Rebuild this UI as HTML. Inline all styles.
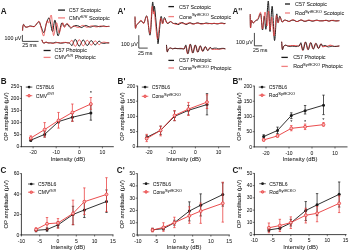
<!DOCTYPE html>
<html><head><meta charset="utf-8"><style>
html,body{margin:0;padding:0;background:#fff;width:350px;height:250px;overflow:hidden}
svg{display:block;will-change:transform}
text{font-family:"Liberation Sans", sans-serif;stroke:#1a1a1a;stroke-width:0.04px}
</style></head><body>
<svg width="350" height="250" viewBox="0 0 350 250">
<rect width="350" height="250" fill="#fff"/>
<text transform="translate(0.80,14.10) scale(0.87,1)" font-size="9.3" font-weight="bold" fill="#1a1a1a" style="stroke-width:0px">A</text>
<path d="M22.60,30.20 C22.63,29.67 22.63,27.98 22.80,27.00 C22.97,26.02 23.23,24.37 23.60,24.30 C23.97,24.23 24.47,26.12 25.00,26.60 C25.53,27.08 26.22,27.22 26.80,27.20 C27.38,27.18 27.90,26.70 28.50,26.50 C29.10,26.30 29.48,25.98 30.40,26.00 C31.32,26.02 33.15,26.70 34.00,26.60 C34.85,26.50 35.00,25.92 35.50,25.40 C36.00,24.88 36.38,24.10 37.00,23.50 C37.62,22.90 38.50,21.22 39.20,21.80 C39.90,22.38 40.40,25.22 41.20,27.00 C42.00,28.78 43.12,33.17 44.00,32.50 C44.88,31.83 45.67,25.45 46.50,23.00 C47.33,20.55 48.33,17.80 49.00,17.80 C49.67,17.80 49.90,20.72 50.50,23.00 C51.10,25.28 51.85,31.97 52.60,31.50 C53.35,31.03 54.10,19.48 55.00,20.20 C55.90,20.92 56.90,35.30 58.00,35.80 C59.10,36.30 60.60,24.75 61.60,23.20 C62.60,21.65 63.13,26.37 64.00,26.50 C64.87,26.63 65.70,23.75 66.80,24.00 C67.90,24.25 69.57,27.58 70.60,28.00 C71.63,28.42 72.10,26.90 73.00,26.50 C73.90,26.10 75.00,25.65 76.00,25.60 C77.00,25.55 78.12,25.90 79.00,26.22 C79.88,26.54 80.50,27.47 81.25,27.52 C82.00,27.57 82.75,26.88 83.50,26.53 C84.25,26.19 85.00,25.47 85.75,25.45 C86.50,25.42 87.25,26.12 88.00,26.40 C88.75,26.67 89.50,27.08 90.25,27.09 C91.00,27.11 91.75,26.67 92.50,26.48 C93.25,26.28 94.00,25.98 94.75,25.94 C95.50,25.89 96.25,26.08 97.00,26.20 C97.75,26.32 98.50,26.60 99.25,26.66 C100.00,26.72 100.75,26.68 101.50,26.57 C102.25,26.46 103.00,25.99 103.75,25.99 C104.50,25.98 105.25,26.45 106.00,26.53 C106.75,26.61 107.75,26.47 108.25,26.45 C108.75,26.43 108.88,26.41 109.00,26.40" fill="none" stroke="#1a1a1a" stroke-width="1.00" stroke-linejoin="round" stroke-linecap="round" />
<path d="M22.60,30.20 C22.63,29.67 22.63,27.93 22.80,27.00 C22.97,26.07 23.23,24.63 23.60,24.60 C23.97,24.57 24.47,26.40 25.00,26.80 C25.53,27.20 26.22,27.00 26.80,27.00 C27.38,27.00 27.90,26.93 28.50,26.80 C29.10,26.67 29.48,26.20 30.40,26.20 C31.32,26.20 33.15,26.90 34.00,26.80 C34.85,26.70 35.00,26.20 35.50,25.60 C36.00,25.00 36.38,23.88 37.00,23.20 C37.62,22.52 38.50,20.70 39.20,21.50 C39.90,22.30 40.47,25.58 41.20,28.00 C41.93,30.42 42.88,36.17 43.60,36.00 C44.32,35.83 44.90,29.53 45.50,27.00 C46.10,24.47 46.67,21.47 47.20,20.80 C47.73,20.13 48.00,23.90 48.70,23.00 C49.40,22.10 50.60,13.32 51.40,15.40 C52.20,17.48 52.65,34.28 53.50,35.50 C54.35,36.72 55.58,23.12 56.50,22.70 C57.42,22.28 58.25,32.28 59.00,33.00 C59.75,33.72 60.33,28.72 61.00,27.00 C61.67,25.28 62.42,22.62 63.00,22.70 C63.58,22.78 63.83,27.37 64.50,27.50 C65.17,27.63 66.25,23.92 67.00,23.50 C67.75,23.08 68.33,24.33 69.00,25.00 C69.67,25.67 70.25,27.33 71.00,27.50 C71.75,27.67 72.50,26.05 73.50,26.00 C74.50,25.95 76.04,26.96 77.00,27.19 C77.96,27.43 78.50,27.66 79.25,27.40 C80.00,27.15 80.75,25.99 81.50,25.68 C82.25,25.36 83.00,25.29 83.75,25.51 C84.50,25.73 85.25,26.74 86.00,27.01 C86.75,27.27 87.50,27.26 88.25,27.11 C89.00,26.96 89.75,26.33 90.50,26.11 C91.25,25.89 92.00,25.69 92.75,25.80 C93.50,25.91 94.25,26.59 95.00,26.76 C95.75,26.94 96.50,26.96 97.25,26.86 C98.00,26.77 98.75,26.35 99.50,26.19 C100.25,26.04 101.00,25.86 101.75,25.91 C102.50,25.97 103.25,26.44 104.00,26.55 C104.75,26.66 105.50,26.63 106.25,26.59 C107.00,26.56 108.04,26.37 108.50,26.34 C108.96,26.31 108.92,26.39 109.00,26.40" fill="none" stroke="#e83a3a" stroke-width="0.80" stroke-linejoin="round" stroke-linecap="round" opacity="0.95"/>
<path d="M42.00,40.20 C42.12,40.52 42.37,41.60 42.70,42.10 C43.03,42.60 43.45,43.20 44.00,43.20 C44.55,43.20 45.33,42.15 46.00,42.10 C46.67,42.05 47.25,42.77 48.00,42.90 C48.75,43.03 49.64,42.84 50.50,42.87 C51.36,42.90 52.36,43.19 53.16,43.10 C53.96,43.01 54.55,42.39 55.30,42.31 C56.05,42.23 56.81,42.49 57.67,42.63 C58.54,42.76 59.58,43.07 60.49,43.13 C61.39,43.19 62.21,43.08 63.09,42.97 C63.96,42.86 64.96,42.49 65.75,42.47 C66.53,42.46 67.21,42.83 67.80,42.90 C68.39,42.97 68.83,42.67 69.30,42.90 C69.77,43.13 70.19,43.85 70.63,44.31 C71.08,44.76 71.52,45.88 71.97,45.64 C72.41,45.41 72.86,43.88 73.30,42.90 C73.74,41.92 74.19,40.29 74.63,39.78 C75.08,39.28 75.52,39.35 75.97,39.87 C76.41,40.39 76.86,41.92 77.30,42.90 C77.74,43.88 78.19,45.30 78.63,45.76 C79.08,46.22 79.52,46.15 79.97,45.67 C80.41,45.19 80.86,43.79 81.30,42.90 C81.74,42.01 82.19,40.72 82.63,40.30 C83.08,39.88 83.52,39.96 83.97,40.39 C84.41,40.82 84.86,42.09 85.30,42.90 C85.74,43.71 86.19,44.86 86.63,45.24 C87.08,45.61 87.52,45.54 87.97,45.15 C88.41,44.76 88.86,43.62 89.30,42.90 C89.74,42.18 90.19,41.15 90.63,40.82 C91.08,40.49 91.52,40.56 91.97,40.91 C92.41,41.25 92.86,42.26 93.30,42.90 C93.74,43.54 94.19,44.43 94.63,44.72 C95.08,45.01 95.52,44.94 95.97,44.63 C96.41,44.33 96.86,43.45 97.30,42.90 C97.74,42.35 98.19,41.59 98.63,41.34 C99.08,41.10 99.52,41.17 99.97,41.43 C100.41,41.69 100.66,42.58 101.30,42.90 C101.94,43.22 102.94,43.32 103.80,43.33 C104.66,43.33 105.64,43.01 106.47,42.94 C107.31,42.87 108.41,42.91 108.80,42.90" fill="none" stroke="#1a1a1a" stroke-width="1.00" stroke-linejoin="round" stroke-linecap="round" />
<path d="M42.00,40.20 C42.12,40.52 42.37,41.60 42.70,42.10 C43.03,42.60 43.45,43.20 44.00,43.20 C44.55,43.20 45.33,42.15 46.00,42.10 C46.67,42.05 47.25,42.78 48.00,42.90 C48.75,43.02 49.66,42.76 50.50,42.84 C51.34,42.93 52.22,43.40 53.06,43.41 C53.90,43.42 54.68,43.06 55.53,42.91 C56.37,42.76 57.26,42.50 58.11,42.52 C58.96,42.55 59.74,43.07 60.62,43.06 C61.51,43.04 62.57,42.52 63.42,42.41 C64.27,42.31 64.99,42.33 65.72,42.41 C66.45,42.49 67.20,42.82 67.80,42.90 C68.40,42.98 68.83,43.13 69.30,42.90 C69.77,42.67 70.19,41.95 70.63,41.49 C71.08,41.04 71.52,39.92 71.97,40.16 C72.41,40.39 72.86,41.92 73.30,42.90 C73.74,43.88 74.19,45.51 74.63,46.02 C75.08,46.52 75.52,46.45 75.97,45.93 C76.41,45.41 76.86,43.88 77.30,42.90 C77.74,41.92 78.19,40.50 78.63,40.04 C79.08,39.58 79.52,39.65 79.97,40.13 C80.41,40.61 80.86,42.01 81.30,42.90 C81.74,43.79 82.19,45.08 82.63,45.50 C83.08,45.92 83.52,45.84 83.97,45.41 C84.41,44.98 84.86,43.71 85.30,42.90 C85.74,42.09 86.19,40.94 86.63,40.56 C87.08,40.19 87.52,40.26 87.97,40.65 C88.41,41.04 88.86,42.18 89.30,42.90 C89.74,43.62 90.19,44.65 90.63,44.98 C91.08,45.31 91.52,45.24 91.97,44.89 C92.41,44.55 92.86,43.54 93.30,42.90 C93.74,42.26 94.19,41.37 94.63,41.08 C95.08,40.79 95.52,40.86 95.97,41.17 C96.41,41.47 96.86,42.35 97.30,42.90 C97.74,43.45 98.19,44.21 98.63,44.46 C99.08,44.70 99.52,44.63 99.97,44.37 C100.41,44.11 100.66,43.27 101.30,42.90 C101.94,42.53 102.96,42.19 103.80,42.14 C104.64,42.08 105.58,42.43 106.35,42.55 C107.13,42.68 108.06,42.82 108.46,42.88 C108.87,42.94 108.74,42.90 108.80,42.90" fill="none" stroke="#e83a3a" stroke-width="0.80" stroke-linejoin="round" stroke-linecap="round" opacity="0.95"/>
<line x1="58.10" y1="10.10" x2="65.00" y2="10.10" stroke="#1a1a1a" stroke-width="1.30"/>
<text x="68.80" y="12.00" font-size="5.40" text-anchor="start" font-weight="normal" fill="#1a1a1a" >C57 Scotopic</text>
<line x1="58.10" y1="17.90" x2="65.00" y2="17.90" stroke="#f08080" stroke-width="1.30"/>
<text x="68.80" y="19.80" font-size="5.40" fill="#1a1a1a">CMV<tspan font-size="4.10" dy="-2.1" font-style="italic" letter-spacing="0.3">fl/fl</tspan><tspan dy="2.1" font-size="5.40"> Scotopic</tspan></text>
<line x1="43.60" y1="50.50" x2="50.60" y2="50.50" stroke="#1a1a1a" stroke-width="1.30"/>
<text x="54.50" y="52.40" font-size="5.40" text-anchor="start" font-weight="normal" fill="#1a1a1a" >C57 Photopic</text>
<line x1="43.60" y1="57.40" x2="50.60" y2="57.40" stroke="#f08080" stroke-width="1.30"/>
<text x="54.50" y="59.30" font-size="5.40" fill="#1a1a1a">CMV<tspan font-size="4.10" dy="-2.1" font-style="italic" letter-spacing="0.3">fl/fl</tspan><tspan dy="2.1" font-size="5.40"> Photopic</tspan></text>
<path d="M22.40,35.30 L22.40,41.40 L38.20,41.40" fill="none" stroke="#1a1a1a" stroke-width="0.80" stroke-linejoin="round" stroke-linecap="round" stroke-linecap="butt" stroke-linejoin="miter"/>
<text x="21.40" y="39.80" font-size="5.30" text-anchor="end" font-weight="normal" fill="#1a1a1a" >100 μV</text>
<text x="22.20" y="47.20" font-size="5.30" text-anchor="start" font-weight="normal" fill="#1a1a1a" >25 ms</text>
<text transform="translate(117.60,14.10) scale(0.87,1)" font-size="9.3" font-weight="bold" fill="#1a1a1a" style="stroke-width:0px">A'</text>
<path d="M135.00,17.00 C135.07,18.83 135.15,26.67 135.40,28.00 C135.65,29.33 136.00,25.77 136.50,25.00 C137.00,24.23 137.65,24.12 138.40,23.40 C139.15,22.68 140.10,20.77 141.00,20.70 C141.90,20.63 142.80,23.75 143.80,23.00 C144.80,22.25 145.95,14.20 147.00,16.20 C148.05,18.20 149.18,37.25 150.10,35.00 C151.02,32.75 151.92,6.53 152.50,2.70 C153.08,-1.13 153.25,11.25 153.60,12.00 C153.95,12.75 153.95,2.87 154.60,7.20 C155.25,11.53 156.88,32.20 157.50,38.00 C158.12,43.80 157.73,45.50 158.30,42.00 C158.87,38.50 160.17,20.10 160.90,17.00 C161.63,13.90 162.10,23.32 162.70,23.40 C163.30,23.48 163.75,17.50 164.50,17.50 C165.25,17.50 166.15,22.72 167.20,23.40 C168.25,24.08 169.83,21.58 170.80,21.60 C171.77,21.62 172.13,23.22 173.00,23.50 C173.87,23.78 175.17,23.12 176.00,23.30 C176.83,23.48 177.33,24.52 178.00,24.57 C178.67,24.62 179.33,23.91 180.00,23.58 C180.67,23.26 181.33,22.66 182.00,22.62 C182.67,22.58 183.33,23.02 184.00,23.33 C184.67,23.64 185.33,24.39 186.00,24.45 C186.67,24.51 187.33,23.96 188.00,23.68 C188.67,23.41 189.33,22.85 190.00,22.82 C190.67,22.79 191.33,23.32 192.00,23.50 C192.67,23.69 193.33,23.99 194.00,23.94 C194.67,23.89 195.33,23.37 196.00,23.20 C196.67,23.03 197.33,22.85 198.00,22.91 C198.67,22.97 199.33,23.43 200.00,23.55 C200.67,23.68 201.33,23.64 202.00,23.66 C202.67,23.68 203.33,23.79 204.00,23.68 C204.67,23.57 205.33,23.06 206.00,23.01 C206.67,22.95 207.33,23.25 208.00,23.34 C208.67,23.43 209.33,23.45 210.00,23.53 C210.67,23.60 211.33,23.83 212.00,23.80 C212.67,23.77 213.33,23.36 214.00,23.34 C214.67,23.33 215.33,23.64 216.00,23.73 C216.67,23.81 217.33,23.95 218.00,23.87 C218.67,23.79 219.33,23.35 220.00,23.22 C220.67,23.09 221.33,23.05 222.00,23.10 C222.67,23.14 223.50,23.43 224.00,23.50 C224.50,23.57 224.83,23.50 225.00,23.50" fill="none" stroke="#1a1a1a" stroke-width="1.00" stroke-linejoin="round" stroke-linecap="round" />
<path d="M135.00,17.00 C135.07,18.83 135.15,26.67 135.40,28.00 C135.65,29.33 136.00,25.83 136.50,25.00 C137.00,24.17 137.65,23.80 138.40,23.00 C139.15,22.20 140.10,20.12 141.00,20.20 C141.90,20.28 142.80,24.12 143.80,23.50 C144.80,22.88 145.97,14.83 147.00,16.50 C148.03,18.17 149.17,35.08 150.00,33.50 C150.83,31.92 151.45,10.25 152.00,7.00 C152.55,3.75 152.92,13.17 153.30,14.00 C153.68,14.83 153.72,8.33 154.30,12.00 C154.88,15.67 156.18,31.83 156.80,36.00 C157.42,40.17 157.38,39.92 158.00,37.00 C158.62,34.08 159.75,20.67 160.50,18.50 C161.25,16.33 161.88,24.00 162.50,24.00 C163.12,24.00 163.45,18.67 164.20,18.50 C164.95,18.33 165.95,22.50 167.00,23.00 C168.05,23.50 169.50,21.47 170.50,21.50 C171.50,21.53 172.08,22.71 173.00,23.20 C173.92,23.69 175.17,24.28 176.00,24.42 C176.83,24.55 177.33,24.31 178.00,24.02 C178.67,23.72 179.33,22.77 180.00,22.63 C180.67,22.48 181.33,22.93 182.00,23.14 C182.67,23.34 183.33,23.72 184.00,23.84 C184.67,23.96 185.33,23.99 186.00,23.87 C186.67,23.75 187.33,23.28 188.00,23.12 C188.67,22.95 189.33,22.71 190.00,22.88 C190.67,23.05 191.33,24.00 192.00,24.15 C192.67,24.30 193.33,23.92 194.00,23.80 C194.67,23.68 195.33,23.55 196.00,23.42 C196.67,23.28 197.33,22.93 198.00,23.00 C198.67,23.07 199.33,23.68 200.00,23.86 C200.67,24.04 201.33,24.16 202.00,24.08 C202.67,24.00 203.33,23.46 204.00,23.37 C204.67,23.27 205.33,23.42 206.00,23.50 C206.67,23.57 207.33,23.82 208.00,23.82 C208.67,23.81 209.33,23.51 210.00,23.46 C210.67,23.41 211.33,23.56 212.00,23.54 C212.67,23.51 213.33,23.32 214.00,23.32 C214.67,23.33 215.33,23.54 216.00,23.58 C216.67,23.62 217.33,23.55 218.00,23.54 C218.67,23.53 219.33,23.55 220.00,23.52 C220.67,23.48 221.33,23.25 222.00,23.32 C222.67,23.39 223.50,23.93 224.00,23.96 C224.50,23.99 224.83,23.58 225.00,23.50" fill="none" stroke="#e83a3a" stroke-width="0.80" stroke-linejoin="round" stroke-linecap="round" opacity="0.95"/>
<path d="M166.50,45.30 C166.62,46.38 166.87,51.17 167.20,51.80 C167.53,52.43 167.95,49.73 168.50,49.10 C169.05,48.47 169.83,48.05 170.50,48.00 C171.17,47.95 171.75,48.76 172.50,48.80 C173.25,48.84 174.23,48.24 175.00,48.21 C175.77,48.19 176.31,48.65 177.11,48.67 C177.91,48.70 179.00,48.40 179.80,48.37 C180.60,48.33 181.42,48.41 181.91,48.48 C182.40,48.55 182.36,48.75 182.75,48.80 C183.14,48.85 183.86,49.18 184.25,48.80 C184.64,48.42 184.81,46.95 185.08,46.53 C185.36,46.11 185.64,45.55 185.92,46.30 C186.19,47.06 186.47,49.80 186.75,51.06 C187.03,52.32 187.31,53.76 187.58,53.84 C187.86,53.93 188.14,52.75 188.42,51.57 C188.69,50.38 188.97,47.95 189.25,46.72 C189.53,45.48 189.81,44.24 190.08,44.16 C190.36,44.09 190.64,45.17 190.92,46.26 C191.19,47.35 191.47,49.58 191.75,50.70 C192.03,51.83 192.31,52.96 192.58,53.03 C192.86,53.10 193.14,52.10 193.42,51.11 C193.69,50.12 193.97,48.10 194.25,47.07 C194.53,46.05 194.81,45.03 195.08,44.98 C195.36,44.92 195.64,45.82 195.92,46.72 C196.19,47.62 196.47,49.43 196.75,50.35 C197.03,51.27 197.31,52.17 197.58,52.22 C197.86,52.27 198.14,51.45 198.42,50.65 C198.69,49.85 198.97,48.24 199.25,47.43 C199.53,46.62 199.81,45.83 200.08,45.79 C200.36,45.75 200.64,46.48 200.92,47.18 C201.19,47.88 201.47,49.29 201.75,50.00 C202.03,50.70 202.31,51.37 202.58,51.41 C202.86,51.44 203.14,50.80 203.42,50.19 C203.69,49.59 203.97,48.38 204.25,47.78 C204.53,47.18 204.81,46.62 205.08,46.60 C205.36,46.58 205.64,47.13 205.92,47.64 C206.19,48.14 206.47,49.15 206.75,49.64 C207.03,50.13 207.31,50.58 207.58,50.59 C207.86,50.61 208.14,50.14 208.42,49.74 C208.69,49.33 208.97,48.52 209.25,48.14 C209.53,47.75 209.81,47.42 210.08,47.41 C210.36,47.41 210.64,47.78 210.92,48.09 C211.19,48.41 211.19,49.11 211.75,49.29 C212.31,49.46 213.44,49.14 214.25,49.13 C215.06,49.13 215.86,49.27 216.58,49.28 C217.30,49.28 217.85,49.22 218.57,49.17 C219.28,49.12 220.12,49.07 220.85,48.97 C221.57,48.88 222.24,48.62 222.93,48.59 C223.62,48.56 224.65,48.76 225.00,48.80" fill="none" stroke="#e83a3a" stroke-width="1.00" stroke-linejoin="round" stroke-linecap="round" />
<path d="M166.50,45.30 C166.62,46.38 166.87,51.17 167.20,51.80 C167.53,52.43 167.95,49.73 168.50,49.10 C169.05,48.47 169.83,48.05 170.50,48.00 C171.17,47.95 171.75,48.75 172.50,48.80 C173.25,48.85 174.21,48.33 175.00,48.29 C175.79,48.25 176.36,48.48 177.21,48.56 C178.07,48.65 179.19,48.76 180.11,48.80 C181.04,48.83 182.06,48.80 182.75,48.80 C183.44,48.80 183.86,49.13 184.25,48.80 C184.64,48.47 184.81,47.47 185.08,46.83 C185.36,46.19 185.64,44.63 185.92,44.95 C186.19,45.28 186.47,47.43 186.75,48.80 C187.03,50.17 187.31,52.47 187.58,53.18 C187.86,53.89 188.14,53.79 188.42,53.06 C188.69,52.33 188.97,50.18 189.25,48.80 C189.53,47.42 189.81,45.42 190.08,44.77 C190.36,44.12 190.64,44.22 190.92,44.89 C191.19,45.56 191.47,47.54 191.75,48.80 C192.03,50.06 192.31,51.88 192.58,52.47 C192.86,53.07 193.14,52.97 193.42,52.36 C193.69,51.74 193.97,49.95 194.25,48.80 C194.53,47.65 194.81,46.01 195.08,45.48 C195.36,44.94 195.64,45.04 195.92,45.60 C196.19,46.15 196.47,47.77 196.75,48.80 C197.03,49.83 197.31,51.29 197.58,51.77 C197.86,52.24 198.14,52.15 198.42,51.65 C198.69,51.16 198.97,49.71 199.25,48.80 C199.53,47.89 199.81,46.60 200.08,46.18 C200.36,45.77 200.64,45.87 200.92,46.30 C201.19,46.74 201.47,48.01 201.75,48.80 C202.03,49.59 202.31,50.71 202.58,51.06 C202.86,51.42 203.14,51.32 203.42,50.95 C203.69,50.57 203.97,49.48 204.25,48.80 C204.53,48.12 204.81,47.19 205.08,46.89 C205.36,46.59 205.64,46.69 205.92,47.01 C206.19,47.33 206.47,48.24 206.75,48.80 C207.03,49.36 207.31,50.12 207.58,50.36 C207.86,50.60 208.14,50.50 208.42,50.24 C208.69,49.98 208.97,49.24 209.25,48.80 C209.53,48.36 209.81,47.78 210.08,47.59 C210.36,47.41 210.64,47.51 210.92,47.71 C211.19,47.91 211.19,48.73 211.75,48.80 C212.31,48.87 213.45,48.21 214.25,48.10 C215.05,48.00 215.78,48.02 216.54,48.15 C217.30,48.29 218.03,48.87 218.84,48.92 C219.65,48.96 220.58,48.51 221.38,48.42 C222.18,48.33 223.04,48.33 223.64,48.39 C224.24,48.45 224.77,48.73 225.00,48.80" fill="none" stroke="#1a1a1a" stroke-width="0.85" stroke-linejoin="round" stroke-linecap="round" opacity="0.92"/>
<line x1="168.40" y1="6.60" x2="174.00" y2="6.60" stroke="#1a1a1a" stroke-width="1.30"/>
<text x="179.00" y="8.50" font-size="5.40" text-anchor="start" font-weight="normal" fill="#1a1a1a" >C57 Scotopic</text>
<line x1="168.40" y1="16.60" x2="174.00" y2="16.60" stroke="#f08080" stroke-width="1.30"/>
<text x="179.00" y="18.50" font-size="5.40" fill="#1a1a1a">Cone<tspan font-size="4.10" dy="-2.1" >Syt9CKO</tspan><tspan dy="2.1" font-size="5.40"> Scotopic</tspan></text>
<line x1="168.40" y1="60.40" x2="174.00" y2="60.40" stroke="#1a1a1a" stroke-width="1.30"/>
<text x="179.00" y="62.30" font-size="5.40" text-anchor="start" font-weight="normal" fill="#1a1a1a" >C57 Photopic</text>
<line x1="168.40" y1="68.00" x2="174.00" y2="68.00" stroke="#f08080" stroke-width="1.30"/>
<text x="179.00" y="69.90" font-size="5.40" fill="#1a1a1a">Cone<tspan font-size="4.10" dy="-2.1" >Syt9CKO</tspan><tspan dy="2.1" font-size="5.40"> Photopic</tspan></text>
<path d="M138.80,35.60 L138.80,48.10 L147.30,48.10" fill="none" stroke="#1a1a1a" stroke-width="0.80" stroke-linejoin="round" stroke-linecap="round" stroke-linecap="butt" stroke-linejoin="miter"/>
<text x="137.80" y="46.40" font-size="5.30" text-anchor="end" font-weight="normal" fill="#1a1a1a" >100 μV</text>
<text x="138.00" y="55.20" font-size="5.30" text-anchor="start" font-weight="normal" fill="#1a1a1a" >25 ms</text>
<text transform="translate(232.40,14.10) scale(0.87,1)" font-size="9.3" font-weight="bold" fill="#1a1a1a" style="stroke-width:0px">A''</text>
<path d="M250.20,14.60 C250.25,16.80 250.28,26.82 250.50,27.80 C250.72,28.78 251.05,21.30 251.50,20.50 C251.95,19.70 252.52,22.98 253.20,23.00 C253.88,23.02 254.80,21.18 255.60,20.60 C256.40,20.02 257.15,20.60 258.00,19.50 C258.85,18.40 259.95,12.25 260.70,14.00 C261.45,15.75 261.90,29.67 262.50,30.00 C263.10,30.33 263.72,16.17 264.30,16.00 C264.88,15.83 265.33,31.50 266.00,29.00 C266.67,26.50 267.63,0.58 268.30,1.00 C268.97,1.42 269.35,30.62 270.00,31.50 C270.65,32.38 271.45,4.80 272.20,6.30 C272.95,7.80 273.77,39.15 274.50,40.50 C275.23,41.85 276.02,17.40 276.60,14.40 C277.18,11.40 277.47,22.20 278.00,22.50 C278.53,22.80 279.13,16.28 279.80,16.20 C280.47,16.12 281.30,21.33 282.00,22.00 C282.70,22.67 283.17,20.43 284.00,20.20 C284.83,19.97 286.17,20.41 287.00,20.63 C287.83,20.85 288.33,21.52 289.00,21.50 C289.67,21.48 290.33,20.74 291.00,20.50 C291.67,20.26 292.33,20.03 293.00,20.07 C293.67,20.11 294.33,20.49 295.00,20.75 C295.67,21.00 296.33,21.62 297.00,21.61 C297.67,21.61 298.33,21.02 299.00,20.73 C299.67,20.45 300.33,19.89 301.00,19.91 C301.67,19.93 302.33,20.59 303.00,20.84 C303.67,21.08 304.33,21.38 305.00,21.39 C305.67,21.39 306.33,21.06 307.00,20.87 C307.67,20.68 308.33,20.23 309.00,20.24 C309.67,20.24 310.33,20.75 311.00,20.90 C311.67,21.05 312.33,21.21 313.00,21.14 C313.67,21.08 314.33,20.67 315.00,20.49 C315.67,20.32 316.33,20.03 317.00,20.09 C317.67,20.15 318.33,20.71 319.00,20.83 C319.67,20.96 320.33,20.83 321.00,20.82 C321.67,20.81 322.33,20.85 323.00,20.79 C323.67,20.73 324.33,20.53 325.00,20.47 C325.67,20.41 326.33,20.32 327.00,20.44 C327.67,20.55 328.33,21.17 329.00,21.17 C329.67,21.17 330.33,20.51 331.00,20.42 C331.67,20.33 332.33,20.54 333.00,20.62 C333.67,20.70 334.33,20.87 335.00,20.90 C335.67,20.94 336.33,20.86 337.00,20.83 C337.67,20.80 338.67,20.72 339.00,20.70" fill="none" stroke="#1a1a1a" stroke-width="1.00" stroke-linejoin="round" stroke-linecap="round" />
<path d="M250.20,14.60 C250.25,16.80 250.28,26.82 250.50,27.80 C250.72,28.78 251.05,21.30 251.50,20.50 C251.95,19.70 252.52,22.98 253.20,23.00 C253.88,23.02 254.80,21.35 255.60,20.60 C256.40,19.85 257.15,19.83 258.00,18.50 C258.85,17.17 259.95,10.85 260.70,12.60 C261.45,14.35 261.78,29.10 262.50,29.00 C263.22,28.90 264.25,12.50 265.00,12.00 C265.75,11.50 266.42,26.17 267.00,26.00 C267.58,25.83 268.00,10.33 268.50,11.00 C269.00,11.67 269.45,29.00 270.00,30.00 C270.55,31.00 271.13,16.00 271.80,17.00 C272.47,18.00 273.25,36.25 274.00,36.00 C274.75,35.75 275.63,17.67 276.30,15.50 C276.97,13.33 277.38,22.67 278.00,23.00 C278.62,23.33 279.25,17.67 280.00,17.50 C280.75,17.33 281.67,21.58 282.50,22.00 C283.33,22.42 284.08,20.10 285.00,20.00 C285.92,19.90 287.17,21.24 288.00,21.43 C288.83,21.62 289.33,21.39 290.00,21.15 C290.67,20.91 291.33,20.19 292.00,19.97 C292.67,19.76 293.33,19.63 294.00,19.86 C294.67,20.10 295.33,21.12 296.00,21.38 C296.67,21.64 297.33,21.57 298.00,21.42 C298.67,21.26 299.33,20.70 300.00,20.45 C300.67,20.19 301.33,19.79 302.00,19.90 C302.67,20.01 303.33,20.92 304.00,21.09 C304.67,21.26 305.33,21.07 306.00,20.91 C306.67,20.75 307.33,20.25 308.00,20.14 C308.67,20.04 309.33,20.17 310.00,20.27 C310.67,20.38 311.33,20.65 312.00,20.75 C312.67,20.85 313.33,20.93 314.00,20.89 C314.67,20.85 315.33,20.58 316.00,20.51 C316.67,20.43 317.33,20.38 318.00,20.42 C318.67,20.46 319.33,20.67 320.00,20.76 C320.67,20.86 321.33,21.01 322.00,21.00 C322.67,20.99 323.33,20.83 324.00,20.69 C324.67,20.56 325.33,20.11 326.00,20.17 C326.67,20.24 327.33,20.93 328.00,21.08 C328.67,21.22 329.33,21.16 330.00,21.05 C330.67,20.94 331.33,20.54 332.00,20.41 C332.67,20.28 333.33,20.14 334.00,20.26 C334.67,20.39 335.33,21.07 336.00,21.17 C336.67,21.26 337.50,20.91 338.00,20.83 C338.50,20.75 338.83,20.72 339.00,20.70" fill="none" stroke="#e83a3a" stroke-width="0.80" stroke-linejoin="round" stroke-linecap="round" opacity="0.95"/>
<path d="M281.70,42.10 C281.82,43.35 282.07,48.90 282.40,49.60 C282.73,50.30 283.15,47.03 283.70,46.30 C284.25,45.57 285.03,45.25 285.70,45.20 C286.37,45.15 286.95,45.92 287.70,46.00 C288.45,46.08 289.37,45.76 290.20,45.69 C291.03,45.62 291.81,45.60 292.70,45.59 C293.59,45.59 294.69,45.61 295.52,45.68 C296.36,45.75 297.09,45.95 297.70,46.00 C298.31,46.05 298.81,46.33 299.20,46.00 C299.59,45.67 299.78,44.41 300.07,44.05 C300.36,43.69 300.64,43.20 300.93,43.85 C301.22,44.50 301.51,46.86 301.80,47.95 C302.09,49.03 302.38,50.29 302.67,50.36 C302.96,50.44 303.24,49.43 303.53,48.40 C303.82,47.37 304.11,45.26 304.40,44.19 C304.69,43.12 304.98,42.03 305.27,41.96 C305.56,41.89 305.84,42.83 306.13,43.78 C306.42,44.73 306.71,46.68 307.00,47.67 C307.29,48.66 307.58,49.66 307.87,49.72 C308.16,49.78 308.44,48.92 308.73,48.04 C309.02,47.16 309.31,45.38 309.60,44.47 C309.89,43.56 310.18,42.65 310.47,42.60 C310.76,42.54 311.04,43.34 311.33,44.14 C311.62,44.94 311.91,46.57 312.20,47.39 C312.49,48.22 312.78,49.04 313.07,49.08 C313.36,49.13 313.64,48.40 313.93,47.68 C314.22,46.96 314.51,45.49 314.80,44.75 C315.09,44.01 315.38,43.28 315.67,43.23 C315.96,43.19 316.24,43.85 316.53,44.50 C316.82,45.15 317.11,46.46 317.40,47.11 C317.69,47.77 317.98,48.41 318.27,48.45 C318.56,48.48 318.84,47.89 319.13,47.32 C319.42,46.75 319.71,45.60 320.00,45.03 C320.29,44.45 320.58,43.90 320.87,43.87 C321.16,43.84 321.44,44.37 321.73,44.86 C322.02,45.35 322.04,46.61 322.60,46.84 C323.16,47.06 324.33,46.28 325.10,46.19 C325.87,46.11 326.39,46.48 327.22,46.30 C328.04,46.13 329.18,45.26 330.05,45.17 C330.91,45.08 331.64,45.56 332.40,45.78 C333.16,45.99 333.75,46.39 334.59,46.48 C335.43,46.56 336.71,46.36 337.44,46.28 C338.18,46.20 338.74,46.05 339.00,46.00" fill="none" stroke="#e83a3a" stroke-width="1.00" stroke-linejoin="round" stroke-linecap="round" />
<path d="M281.70,42.10 C281.82,43.35 282.07,48.90 282.40,49.60 C282.73,50.30 283.15,47.03 283.70,46.30 C284.25,45.57 285.03,45.25 285.70,45.20 C286.37,45.15 286.95,45.77 287.70,46.00 C288.45,46.23 289.44,46.53 290.20,46.57 C290.96,46.62 291.50,46.28 292.25,46.27 C293.01,46.26 293.92,46.49 294.74,46.53 C295.55,46.57 296.65,46.59 297.15,46.50 C297.64,46.41 297.36,46.08 297.70,46.00 C298.04,45.92 298.81,46.28 299.20,46.00 C299.59,45.72 299.78,44.86 300.07,44.31 C300.36,43.75 300.64,42.41 300.93,42.69 C301.22,42.97 301.51,44.82 301.80,46.00 C302.09,47.18 302.38,49.17 302.67,49.79 C302.96,50.40 303.24,50.33 303.53,49.70 C303.82,49.06 304.11,47.20 304.40,46.00 C304.69,44.80 304.98,43.06 305.27,42.49 C305.56,41.92 305.84,42.00 306.13,42.58 C306.42,43.17 306.71,44.89 307.00,46.00 C307.29,47.11 307.58,48.71 307.87,49.23 C308.16,49.76 308.44,49.68 308.73,49.14 C309.02,48.60 309.31,47.02 309.60,46.00 C309.89,44.98 310.18,43.52 310.47,43.04 C310.76,42.57 311.04,42.64 311.33,43.14 C311.62,43.63 311.91,45.08 312.20,46.00 C312.49,46.92 312.78,48.25 313.07,48.68 C313.36,49.11 313.64,49.03 313.93,48.59 C314.22,48.14 314.51,46.83 314.80,46.00 C315.09,45.17 315.38,43.98 315.67,43.60 C315.96,43.21 316.24,43.29 316.53,43.69 C316.82,44.09 317.11,45.26 317.40,46.00 C317.69,46.74 317.98,47.79 318.27,48.12 C318.56,48.46 318.84,48.39 319.13,48.03 C319.42,47.68 319.71,46.65 320.00,46.00 C320.29,45.35 320.58,44.45 320.87,44.15 C321.16,43.86 321.44,43.94 321.73,44.24 C322.02,44.55 322.04,45.82 322.60,46.00 C323.16,46.18 324.21,45.18 325.10,45.34 C325.99,45.49 327.12,46.70 327.92,46.92 C328.71,47.14 329.10,46.74 329.86,46.63 C330.62,46.53 331.71,46.31 332.46,46.27 C333.22,46.24 333.69,46.42 334.39,46.42 C335.10,46.43 335.91,46.38 336.68,46.31 C337.44,46.24 338.61,46.05 339.00,46.00" fill="none" stroke="#1a1a1a" stroke-width="0.85" stroke-linejoin="round" stroke-linecap="round" opacity="0.92"/>
<line x1="285.00" y1="4.00" x2="290.00" y2="4.00" stroke="#1a1a1a" stroke-width="1.30"/>
<text x="295.00" y="5.90" font-size="5.40" text-anchor="start" font-weight="normal" fill="#1a1a1a" >C57 Scotopic</text>
<line x1="285.00" y1="13.00" x2="290.00" y2="13.00" stroke="#f08080" stroke-width="1.30"/>
<text x="295.00" y="14.90" font-size="5.40" fill="#1a1a1a">Rod<tspan font-size="4.10" dy="-2.1" >Syt9CKO</tspan><tspan dy="2.1" font-size="5.40"> Scotopic</tspan></text>
<line x1="281.40" y1="57.40" x2="287.80" y2="57.40" stroke="#1a1a1a" stroke-width="1.30"/>
<text x="293.20" y="59.30" font-size="5.40" text-anchor="start" font-weight="normal" fill="#1a1a1a" >C57 Photopic</text>
<line x1="281.40" y1="66.40" x2="287.80" y2="66.40" stroke="#f08080" stroke-width="1.30"/>
<text x="293.20" y="68.30" font-size="5.40" fill="#1a1a1a">Rod<tspan font-size="4.10" dy="-2.1" >Syt9CKO</tspan><tspan dy="2.1" font-size="5.40"> Photopic</tspan></text>
<path d="M254.40,33.30 L254.40,45.80 L261.80,45.80" fill="none" stroke="#1a1a1a" stroke-width="0.80" stroke-linejoin="round" stroke-linecap="round" stroke-linecap="butt" stroke-linejoin="miter"/>
<text x="252.90" y="44.20" font-size="5.30" text-anchor="end" font-weight="normal" fill="#1a1a1a" >100 μV</text>
<text x="253.00" y="52.20" font-size="5.30" text-anchor="start" font-weight="normal" fill="#1a1a1a" >25 ms</text>
<text transform="translate(0.80,84.10) scale(0.87,1)" font-size="9.3" font-weight="bold" fill="#1a1a1a" style="stroke-width:0px">B</text>
<line x1="21.40" y1="86.10" x2="21.40" y2="147.10" stroke="#222" stroke-width="0.85"/>
<line x1="21.00" y1="146.70" x2="113.80" y2="146.70" stroke="#222" stroke-width="0.85"/>
<line x1="19.80" y1="146.70" x2="21.40" y2="146.70" stroke="#1a1a1a" stroke-width="0.60"/>
<text x="19.20" y="148.30" font-size="5.00" text-anchor="end" font-weight="normal" fill="#1a1a1a" >0</text>
<line x1="19.80" y1="134.64" x2="21.40" y2="134.64" stroke="#1a1a1a" stroke-width="0.60"/>
<text x="19.20" y="136.24" font-size="5.00" text-anchor="end" font-weight="normal" fill="#1a1a1a" >50</text>
<line x1="19.80" y1="122.58" x2="21.40" y2="122.58" stroke="#1a1a1a" stroke-width="0.60"/>
<text x="19.20" y="124.18" font-size="5.00" text-anchor="end" font-weight="normal" fill="#1a1a1a" >100</text>
<line x1="19.80" y1="110.52" x2="21.40" y2="110.52" stroke="#1a1a1a" stroke-width="0.60"/>
<text x="19.20" y="112.12" font-size="5.00" text-anchor="end" font-weight="normal" fill="#1a1a1a" >150</text>
<line x1="19.80" y1="98.46" x2="21.40" y2="98.46" stroke="#1a1a1a" stroke-width="0.60"/>
<text x="19.20" y="100.06" font-size="5.00" text-anchor="end" font-weight="normal" fill="#1a1a1a" >200</text>
<line x1="19.80" y1="86.40" x2="21.40" y2="86.40" stroke="#1a1a1a" stroke-width="0.60"/>
<text x="19.20" y="88.00" font-size="5.00" text-anchor="end" font-weight="normal" fill="#1a1a1a" >250</text>
<line x1="33.10" y1="146.70" x2="33.10" y2="148.30" stroke="#1a1a1a" stroke-width="0.60"/>
<text x="33.10" y="154.30" font-size="5.00" text-anchor="middle" font-weight="normal" fill="#1a1a1a" >-20</text>
<line x1="56.20" y1="146.70" x2="56.20" y2="148.30" stroke="#1a1a1a" stroke-width="0.60"/>
<text x="56.20" y="154.30" font-size="5.00" text-anchor="middle" font-weight="normal" fill="#1a1a1a" >-10</text>
<line x1="79.30" y1="146.70" x2="79.30" y2="148.30" stroke="#1a1a1a" stroke-width="0.60"/>
<text x="79.30" y="154.30" font-size="5.00" text-anchor="middle" font-weight="normal" fill="#1a1a1a" >0</text>
<line x1="102.40" y1="146.70" x2="102.40" y2="148.30" stroke="#1a1a1a" stroke-width="0.60"/>
<text x="102.40" y="154.30" font-size="5.00" text-anchor="middle" font-weight="normal" fill="#1a1a1a" >10</text>
<text x="67.90" y="161.10" font-size="5.90" text-anchor="middle" font-weight="normal" fill="#1a1a1a" >Intensity (dB)</text>
<text transform="translate(8.00,116.55) rotate(-90)" font-size="5.9" text-anchor="middle" fill="#1a1a1a">OP amplitude (μV)</text>
<polyline points="30.79,140.19 44.65,134.40 58.51,121.62 72.37,117.27 90.85,112.93" fill="none" stroke="#1a1a1a" stroke-width="0.9"/>
<line x1="30.79" y1="138.98" x2="30.79" y2="141.39" stroke="#1a1a1a" stroke-width="0.75"/>
<line x1="29.59" y1="138.98" x2="31.99" y2="138.98" stroke="#1a1a1a" stroke-width="0.70"/>
<line x1="29.59" y1="141.39" x2="31.99" y2="141.39" stroke="#1a1a1a" stroke-width="0.70"/>
<line x1="44.65" y1="131.75" x2="44.65" y2="137.05" stroke="#1a1a1a" stroke-width="0.75"/>
<line x1="43.45" y1="131.75" x2="45.85" y2="131.75" stroke="#1a1a1a" stroke-width="0.70"/>
<line x1="43.45" y1="137.05" x2="45.85" y2="137.05" stroke="#1a1a1a" stroke-width="0.70"/>
<line x1="58.51" y1="120.17" x2="58.51" y2="123.06" stroke="#1a1a1a" stroke-width="0.75"/>
<line x1="57.31" y1="120.17" x2="59.71" y2="120.17" stroke="#1a1a1a" stroke-width="0.70"/>
<line x1="57.31" y1="123.06" x2="59.71" y2="123.06" stroke="#1a1a1a" stroke-width="0.70"/>
<line x1="72.37" y1="113.66" x2="72.37" y2="121.13" stroke="#1a1a1a" stroke-width="0.75"/>
<line x1="71.17" y1="113.66" x2="73.57" y2="113.66" stroke="#1a1a1a" stroke-width="0.70"/>
<line x1="71.17" y1="121.13" x2="73.57" y2="121.13" stroke="#1a1a1a" stroke-width="0.70"/>
<line x1="90.85" y1="105.21" x2="90.85" y2="120.17" stroke="#1a1a1a" stroke-width="0.75"/>
<line x1="89.65" y1="105.21" x2="92.05" y2="105.21" stroke="#1a1a1a" stroke-width="0.70"/>
<line x1="89.65" y1="120.17" x2="92.05" y2="120.17" stroke="#1a1a1a" stroke-width="0.70"/>
<circle cx="30.79" cy="140.19" r="1.5" fill="#1a1a1a"/>
<circle cx="44.65" cy="134.40" r="1.5" fill="#1a1a1a"/>
<circle cx="58.51" cy="121.62" r="1.5" fill="#1a1a1a"/>
<circle cx="72.37" cy="117.27" r="1.5" fill="#1a1a1a"/>
<circle cx="90.85" cy="112.93" r="1.5" fill="#1a1a1a"/>
<polyline points="30.79,138.02 44.65,129.57 58.51,120.41 72.37,112.45 90.85,104.01" fill="none" stroke="#e8393a" stroke-width="0.9"/>
<line x1="30.79" y1="135.85" x2="30.79" y2="139.95" stroke="#e8393a" stroke-width="0.75"/>
<line x1="29.59" y1="135.85" x2="31.99" y2="135.85" stroke="#e8393a" stroke-width="0.70"/>
<line x1="29.59" y1="139.95" x2="31.99" y2="139.95" stroke="#e8393a" stroke-width="0.70"/>
<line x1="44.65" y1="122.58" x2="44.65" y2="137.05" stroke="#e8393a" stroke-width="0.75"/>
<line x1="43.45" y1="122.58" x2="45.85" y2="122.58" stroke="#e8393a" stroke-width="0.70"/>
<line x1="43.45" y1="137.05" x2="45.85" y2="137.05" stroke="#e8393a" stroke-width="0.70"/>
<line x1="58.51" y1="112.45" x2="58.51" y2="128.13" stroke="#e8393a" stroke-width="0.75"/>
<line x1="57.31" y1="112.45" x2="59.71" y2="112.45" stroke="#e8393a" stroke-width="0.70"/>
<line x1="57.31" y1="128.13" x2="59.71" y2="128.13" stroke="#e8393a" stroke-width="0.70"/>
<line x1="72.37" y1="104.01" x2="72.37" y2="121.37" stroke="#e8393a" stroke-width="0.75"/>
<line x1="71.17" y1="104.01" x2="73.57" y2="104.01" stroke="#e8393a" stroke-width="0.70"/>
<line x1="71.17" y1="121.37" x2="73.57" y2="121.37" stroke="#e8393a" stroke-width="0.70"/>
<line x1="90.85" y1="97.50" x2="90.85" y2="109.31" stroke="#e8393a" stroke-width="0.75"/>
<line x1="89.65" y1="97.50" x2="92.05" y2="97.50" stroke="#e8393a" stroke-width="0.70"/>
<line x1="89.65" y1="109.31" x2="92.05" y2="109.31" stroke="#e8393a" stroke-width="0.70"/>
<circle cx="30.79" cy="138.02" r="1.45" fill="#f8c0c0" stroke="#e8393a" stroke-width="0.8"/>
<circle cx="44.65" cy="129.57" r="1.45" fill="#f8c0c0" stroke="#e8393a" stroke-width="0.8"/>
<circle cx="58.51" cy="120.41" r="1.45" fill="#f8c0c0" stroke="#e8393a" stroke-width="0.8"/>
<circle cx="72.37" cy="112.45" r="1.45" fill="#f8c0c0" stroke="#e8393a" stroke-width="0.8"/>
<circle cx="90.85" cy="104.01" r="1.45" fill="#f8c0c0" stroke="#e8393a" stroke-width="0.8"/>
<line x1="25.80" y1="87.10" x2="32.30" y2="87.10" stroke="#1a1a1a" stroke-width="0.75"/>
<circle cx="29.05" cy="87.10" r="1.35" fill="#1a1a1a"/>
<line x1="25.80" y1="95.70" x2="32.30" y2="95.70" stroke="#e8393a" stroke-width="0.75"/>
<circle cx="29.05" cy="95.70" r="1.3" fill="#f08080" stroke="#e8393a" stroke-width="0.7"/>
<text x="35.80" y="88.90" font-size="5.10" text-anchor="start" font-weight="normal" fill="#1a1a1a" >C57BL6</text>
<text x="35.80" y="97.50" font-size="5.1" fill="#1a1a1a">CMV<tspan font-size="4.1" dy="-2.1" font-style="italic" letter-spacing="0.3">fl/fl</tspan></text>
<text x="90.85" y="94.90" font-size="4.50" text-anchor="middle" font-weight="normal" fill="#1a1a1a" >*</text>
<text transform="translate(117.60,84.10) scale(0.87,1)" font-size="9.3" font-weight="bold" fill="#1a1a1a" style="stroke-width:0px">B'</text>
<line x1="137.60" y1="85.70" x2="137.60" y2="147.20" stroke="#222" stroke-width="0.85"/>
<line x1="137.20" y1="146.80" x2="230.00" y2="146.80" stroke="#222" stroke-width="0.85"/>
<line x1="136.00" y1="146.80" x2="137.60" y2="146.80" stroke="#1a1a1a" stroke-width="0.60"/>
<text x="135.40" y="148.40" font-size="5.00" text-anchor="end" font-weight="normal" fill="#1a1a1a" >0</text>
<line x1="136.00" y1="131.60" x2="137.60" y2="131.60" stroke="#1a1a1a" stroke-width="0.60"/>
<text x="135.40" y="133.20" font-size="5.00" text-anchor="end" font-weight="normal" fill="#1a1a1a" >50</text>
<line x1="136.00" y1="116.40" x2="137.60" y2="116.40" stroke="#1a1a1a" stroke-width="0.60"/>
<text x="135.40" y="118.00" font-size="5.00" text-anchor="end" font-weight="normal" fill="#1a1a1a" >100</text>
<line x1="136.00" y1="101.20" x2="137.60" y2="101.20" stroke="#1a1a1a" stroke-width="0.60"/>
<text x="135.40" y="102.80" font-size="5.00" text-anchor="end" font-weight="normal" fill="#1a1a1a" >150</text>
<line x1="136.00" y1="86.00" x2="137.60" y2="86.00" stroke="#1a1a1a" stroke-width="0.60"/>
<text x="135.40" y="87.60" font-size="5.00" text-anchor="end" font-weight="normal" fill="#1a1a1a" >200</text>
<line x1="149.00" y1="146.80" x2="149.00" y2="148.40" stroke="#1a1a1a" stroke-width="0.60"/>
<text x="149.00" y="154.40" font-size="5.00" text-anchor="middle" font-weight="normal" fill="#1a1a1a" >-20</text>
<line x1="172.20" y1="146.80" x2="172.20" y2="148.40" stroke="#1a1a1a" stroke-width="0.60"/>
<text x="172.20" y="154.40" font-size="5.00" text-anchor="middle" font-weight="normal" fill="#1a1a1a" >-10</text>
<line x1="195.40" y1="146.80" x2="195.40" y2="148.40" stroke="#1a1a1a" stroke-width="0.60"/>
<text x="195.40" y="154.40" font-size="5.00" text-anchor="middle" font-weight="normal" fill="#1a1a1a" >0</text>
<line x1="218.60" y1="146.80" x2="218.60" y2="148.40" stroke="#1a1a1a" stroke-width="0.60"/>
<text x="218.60" y="154.40" font-size="5.00" text-anchor="middle" font-weight="normal" fill="#1a1a1a" >10</text>
<text x="183.50" y="161.10" font-size="5.90" text-anchor="middle" font-weight="normal" fill="#1a1a1a" >Intensity (dB)</text>
<text transform="translate(124.20,116.40) rotate(-90)" font-size="5.9" text-anchor="middle" fill="#1a1a1a">OP amplitude (μV)</text>
<polyline points="146.68,137.38 160.60,130.38 174.52,116.40 188.44,110.32 207.00,104.54" fill="none" stroke="#1a1a1a" stroke-width="0.9"/>
<line x1="146.68" y1="135.25" x2="146.68" y2="139.50" stroke="#1a1a1a" stroke-width="0.75"/>
<line x1="145.48" y1="135.25" x2="147.88" y2="135.25" stroke="#1a1a1a" stroke-width="0.70"/>
<line x1="145.48" y1="139.50" x2="147.88" y2="139.50" stroke="#1a1a1a" stroke-width="0.70"/>
<line x1="160.60" y1="126.13" x2="160.60" y2="134.64" stroke="#1a1a1a" stroke-width="0.75"/>
<line x1="159.40" y1="126.13" x2="161.80" y2="126.13" stroke="#1a1a1a" stroke-width="0.70"/>
<line x1="159.40" y1="134.64" x2="161.80" y2="134.64" stroke="#1a1a1a" stroke-width="0.70"/>
<line x1="174.52" y1="110.93" x2="174.52" y2="120.66" stroke="#1a1a1a" stroke-width="0.75"/>
<line x1="173.32" y1="110.93" x2="175.72" y2="110.93" stroke="#1a1a1a" stroke-width="0.70"/>
<line x1="173.32" y1="120.66" x2="175.72" y2="120.66" stroke="#1a1a1a" stroke-width="0.70"/>
<line x1="188.44" y1="105.46" x2="188.44" y2="114.88" stroke="#1a1a1a" stroke-width="0.75"/>
<line x1="187.24" y1="105.46" x2="189.64" y2="105.46" stroke="#1a1a1a" stroke-width="0.70"/>
<line x1="187.24" y1="114.88" x2="189.64" y2="114.88" stroke="#1a1a1a" stroke-width="0.70"/>
<line x1="207.00" y1="93.60" x2="207.00" y2="114.88" stroke="#1a1a1a" stroke-width="0.75"/>
<line x1="205.80" y1="93.60" x2="208.20" y2="93.60" stroke="#1a1a1a" stroke-width="0.70"/>
<line x1="205.80" y1="114.88" x2="208.20" y2="114.88" stroke="#1a1a1a" stroke-width="0.70"/>
<circle cx="146.68" cy="137.38" r="1.5" fill="#1a1a1a"/>
<circle cx="160.60" cy="130.38" r="1.5" fill="#1a1a1a"/>
<circle cx="174.52" cy="116.40" r="1.5" fill="#1a1a1a"/>
<circle cx="188.44" cy="110.32" r="1.5" fill="#1a1a1a"/>
<circle cx="207.00" cy="104.54" r="1.5" fill="#1a1a1a"/>
<polyline points="146.68,138.59 160.60,130.38 174.52,115.49 188.44,109.10 207.00,102.11" fill="none" stroke="#e8393a" stroke-width="0.9"/>
<line x1="146.68" y1="134.34" x2="146.68" y2="141.63" stroke="#e8393a" stroke-width="0.75"/>
<line x1="145.48" y1="134.34" x2="147.88" y2="134.34" stroke="#e8393a" stroke-width="0.70"/>
<line x1="145.48" y1="141.63" x2="147.88" y2="141.63" stroke="#e8393a" stroke-width="0.70"/>
<line x1="160.60" y1="126.13" x2="160.60" y2="135.86" stroke="#e8393a" stroke-width="0.75"/>
<line x1="159.40" y1="126.13" x2="161.80" y2="126.13" stroke="#e8393a" stroke-width="0.70"/>
<line x1="159.40" y1="135.86" x2="161.80" y2="135.86" stroke="#e8393a" stroke-width="0.70"/>
<line x1="174.52" y1="110.62" x2="174.52" y2="120.66" stroke="#e8393a" stroke-width="0.75"/>
<line x1="173.32" y1="110.62" x2="175.72" y2="110.62" stroke="#e8393a" stroke-width="0.70"/>
<line x1="173.32" y1="120.66" x2="175.72" y2="120.66" stroke="#e8393a" stroke-width="0.70"/>
<line x1="188.44" y1="102.42" x2="188.44" y2="115.49" stroke="#e8393a" stroke-width="0.75"/>
<line x1="187.24" y1="102.42" x2="189.64" y2="102.42" stroke="#e8393a" stroke-width="0.70"/>
<line x1="187.24" y1="115.49" x2="189.64" y2="115.49" stroke="#e8393a" stroke-width="0.70"/>
<line x1="207.00" y1="94.82" x2="207.00" y2="108.50" stroke="#e8393a" stroke-width="0.75"/>
<line x1="205.80" y1="94.82" x2="208.20" y2="94.82" stroke="#e8393a" stroke-width="0.70"/>
<line x1="205.80" y1="108.50" x2="208.20" y2="108.50" stroke="#e8393a" stroke-width="0.70"/>
<circle cx="146.68" cy="138.59" r="1.45" fill="#f8c0c0" stroke="#e8393a" stroke-width="0.8"/>
<circle cx="160.60" cy="130.38" r="1.45" fill="#f8c0c0" stroke="#e8393a" stroke-width="0.8"/>
<circle cx="174.52" cy="115.49" r="1.45" fill="#f8c0c0" stroke="#e8393a" stroke-width="0.8"/>
<circle cx="188.44" cy="109.10" r="1.45" fill="#f8c0c0" stroke="#e8393a" stroke-width="0.8"/>
<circle cx="207.00" cy="102.11" r="1.45" fill="#f8c0c0" stroke="#e8393a" stroke-width="0.8"/>
<line x1="141.80" y1="87.10" x2="148.30" y2="87.10" stroke="#1a1a1a" stroke-width="0.75"/>
<circle cx="145.05" cy="87.10" r="1.35" fill="#1a1a1a"/>
<line x1="141.80" y1="96.30" x2="148.30" y2="96.30" stroke="#e8393a" stroke-width="0.75"/>
<circle cx="145.05" cy="96.30" r="1.3" fill="#f08080" stroke="#e8393a" stroke-width="0.7"/>
<text x="151.80" y="88.90" font-size="5.10" text-anchor="start" font-weight="normal" fill="#1a1a1a" >C57BL6</text>
<text x="151.80" y="98.10" font-size="5.1" fill="#1a1a1a">Cone<tspan font-size="4.1" dy="-2.1" >Syt9CKO</tspan></text>
<text transform="translate(232.40,84.10) scale(0.87,1)" font-size="9.3" font-weight="bold" fill="#1a1a1a" style="stroke-width:0px">B''</text>
<line x1="254.30" y1="85.70" x2="254.30" y2="147.30" stroke="#222" stroke-width="0.85"/>
<line x1="253.90" y1="146.90" x2="347.50" y2="146.90" stroke="#222" stroke-width="0.85"/>
<line x1="252.70" y1="146.90" x2="254.30" y2="146.90" stroke="#1a1a1a" stroke-width="0.60"/>
<text x="252.10" y="148.50" font-size="5.00" text-anchor="end" font-weight="normal" fill="#1a1a1a" >0</text>
<line x1="252.70" y1="131.68" x2="254.30" y2="131.68" stroke="#1a1a1a" stroke-width="0.60"/>
<text x="252.10" y="133.28" font-size="5.00" text-anchor="end" font-weight="normal" fill="#1a1a1a" >50</text>
<line x1="252.70" y1="116.45" x2="254.30" y2="116.45" stroke="#1a1a1a" stroke-width="0.60"/>
<text x="252.10" y="118.05" font-size="5.00" text-anchor="end" font-weight="normal" fill="#1a1a1a" >100</text>
<line x1="252.70" y1="101.23" x2="254.30" y2="101.23" stroke="#1a1a1a" stroke-width="0.60"/>
<text x="252.10" y="102.83" font-size="5.00" text-anchor="end" font-weight="normal" fill="#1a1a1a" >150</text>
<line x1="252.70" y1="86.00" x2="254.30" y2="86.00" stroke="#1a1a1a" stroke-width="0.60"/>
<text x="252.10" y="87.60" font-size="5.00" text-anchor="end" font-weight="normal" fill="#1a1a1a" >200</text>
<line x1="266.00" y1="146.90" x2="266.00" y2="148.50" stroke="#1a1a1a" stroke-width="0.60"/>
<text x="266.00" y="154.50" font-size="5.00" text-anchor="middle" font-weight="normal" fill="#1a1a1a" >-20</text>
<line x1="289.00" y1="146.90" x2="289.00" y2="148.50" stroke="#1a1a1a" stroke-width="0.60"/>
<text x="289.00" y="154.50" font-size="5.00" text-anchor="middle" font-weight="normal" fill="#1a1a1a" >-10</text>
<line x1="312.00" y1="146.90" x2="312.00" y2="148.50" stroke="#1a1a1a" stroke-width="0.60"/>
<text x="312.00" y="154.50" font-size="5.00" text-anchor="middle" font-weight="normal" fill="#1a1a1a" >0</text>
<line x1="335.00" y1="146.90" x2="335.00" y2="148.50" stroke="#1a1a1a" stroke-width="0.60"/>
<text x="335.00" y="154.50" font-size="5.00" text-anchor="middle" font-weight="normal" fill="#1a1a1a" >10</text>
<text x="300.00" y="161.10" font-size="5.90" text-anchor="middle" font-weight="normal" fill="#1a1a1a" >Intensity (dB)</text>
<text transform="translate(240.90,116.45) rotate(-90)" font-size="5.9" text-anchor="middle" fill="#1a1a1a">OP amplitude (μV)</text>
<polyline points="263.70,136.55 277.50,130.46 291.30,115.54 305.10,110.66 323.50,105.18" fill="none" stroke="#1a1a1a" stroke-width="0.9"/>
<line x1="263.70" y1="134.72" x2="263.70" y2="138.07" stroke="#1a1a1a" stroke-width="0.75"/>
<line x1="262.50" y1="134.72" x2="264.90" y2="134.72" stroke="#1a1a1a" stroke-width="0.70"/>
<line x1="262.50" y1="138.07" x2="264.90" y2="138.07" stroke="#1a1a1a" stroke-width="0.70"/>
<line x1="277.50" y1="127.11" x2="277.50" y2="133.50" stroke="#1a1a1a" stroke-width="0.75"/>
<line x1="276.30" y1="127.11" x2="278.70" y2="127.11" stroke="#1a1a1a" stroke-width="0.70"/>
<line x1="276.30" y1="133.50" x2="278.70" y2="133.50" stroke="#1a1a1a" stroke-width="0.70"/>
<line x1="291.30" y1="112.80" x2="291.30" y2="118.58" stroke="#1a1a1a" stroke-width="0.75"/>
<line x1="290.10" y1="112.80" x2="292.50" y2="112.80" stroke="#1a1a1a" stroke-width="0.70"/>
<line x1="290.10" y1="118.58" x2="292.50" y2="118.58" stroke="#1a1a1a" stroke-width="0.70"/>
<line x1="305.10" y1="105.49" x2="305.10" y2="114.01" stroke="#1a1a1a" stroke-width="0.75"/>
<line x1="303.90" y1="105.49" x2="306.30" y2="105.49" stroke="#1a1a1a" stroke-width="0.70"/>
<line x1="303.90" y1="114.01" x2="306.30" y2="114.01" stroke="#1a1a1a" stroke-width="0.70"/>
<line x1="323.50" y1="95.13" x2="323.50" y2="114.62" stroke="#1a1a1a" stroke-width="0.75"/>
<line x1="322.30" y1="95.13" x2="324.70" y2="95.13" stroke="#1a1a1a" stroke-width="0.70"/>
<line x1="322.30" y1="114.62" x2="324.70" y2="114.62" stroke="#1a1a1a" stroke-width="0.70"/>
<circle cx="263.70" cy="136.55" r="1.5" fill="#1a1a1a"/>
<circle cx="277.50" cy="130.46" r="1.5" fill="#1a1a1a"/>
<circle cx="291.30" cy="115.54" r="1.5" fill="#1a1a1a"/>
<circle cx="305.10" cy="110.66" r="1.5" fill="#1a1a1a"/>
<circle cx="323.50" cy="105.18" r="1.5" fill="#1a1a1a"/>
<polyline points="263.70,139.90 277.50,135.94 291.30,128.33 305.10,126.80 323.50,124.67" fill="none" stroke="#e8393a" stroke-width="0.9"/>
<line x1="263.70" y1="138.68" x2="263.70" y2="141.11" stroke="#e8393a" stroke-width="0.75"/>
<line x1="262.50" y1="138.68" x2="264.90" y2="138.68" stroke="#e8393a" stroke-width="0.70"/>
<line x1="262.50" y1="141.11" x2="264.90" y2="141.11" stroke="#e8393a" stroke-width="0.70"/>
<line x1="277.50" y1="134.72" x2="277.50" y2="137.16" stroke="#e8393a" stroke-width="0.75"/>
<line x1="276.30" y1="134.72" x2="278.70" y2="134.72" stroke="#e8393a" stroke-width="0.70"/>
<line x1="276.30" y1="137.16" x2="278.70" y2="137.16" stroke="#e8393a" stroke-width="0.70"/>
<line x1="291.30" y1="125.59" x2="291.30" y2="130.76" stroke="#e8393a" stroke-width="0.75"/>
<line x1="290.10" y1="125.59" x2="292.50" y2="125.59" stroke="#e8393a" stroke-width="0.70"/>
<line x1="290.10" y1="130.76" x2="292.50" y2="130.76" stroke="#e8393a" stroke-width="0.70"/>
<line x1="305.10" y1="124.06" x2="305.10" y2="129.54" stroke="#e8393a" stroke-width="0.75"/>
<line x1="303.90" y1="124.06" x2="306.30" y2="124.06" stroke="#e8393a" stroke-width="0.70"/>
<line x1="303.90" y1="129.54" x2="306.30" y2="129.54" stroke="#e8393a" stroke-width="0.70"/>
<line x1="323.50" y1="122.54" x2="323.50" y2="126.19" stroke="#e8393a" stroke-width="0.75"/>
<line x1="322.30" y1="122.54" x2="324.70" y2="122.54" stroke="#e8393a" stroke-width="0.70"/>
<line x1="322.30" y1="126.19" x2="324.70" y2="126.19" stroke="#e8393a" stroke-width="0.70"/>
<circle cx="263.70" cy="139.90" r="1.45" fill="#f8c0c0" stroke="#e8393a" stroke-width="0.8"/>
<circle cx="277.50" cy="135.94" r="1.45" fill="#f8c0c0" stroke="#e8393a" stroke-width="0.8"/>
<circle cx="291.30" cy="128.33" r="1.45" fill="#f8c0c0" stroke="#e8393a" stroke-width="0.8"/>
<circle cx="305.10" cy="126.80" r="1.45" fill="#f8c0c0" stroke="#e8393a" stroke-width="0.8"/>
<circle cx="323.50" cy="124.67" r="1.45" fill="#f8c0c0" stroke="#e8393a" stroke-width="0.8"/>
<line x1="258.80" y1="87.10" x2="265.30" y2="87.10" stroke="#1a1a1a" stroke-width="0.75"/>
<circle cx="262.05" cy="87.10" r="1.35" fill="#1a1a1a"/>
<line x1="258.80" y1="95.20" x2="265.30" y2="95.20" stroke="#e8393a" stroke-width="0.75"/>
<circle cx="262.05" cy="95.20" r="1.3" fill="#f08080" stroke="#e8393a" stroke-width="0.7"/>
<text x="268.80" y="88.90" font-size="5.10" text-anchor="start" font-weight="normal" fill="#1a1a1a" >C57BL6</text>
<text x="268.80" y="97.00" font-size="5.1" fill="#1a1a1a">Rod<tspan font-size="4.1" dy="-2.1" >Syt9CKO</tspan></text>
<text x="291.30" y="124.10" font-size="4.50" text-anchor="middle" font-weight="normal" fill="#1a1a1a" >*</text>
<text x="305.10" y="123.80" font-size="4.50" text-anchor="middle" font-weight="normal" fill="#1a1a1a" >*</text>
<text x="323.50" y="122.10" font-size="4.50" text-anchor="middle" font-weight="normal" fill="#1a1a1a" >*</text>
<text transform="translate(0.60,173.40) scale(0.87,1)" font-size="9.3" font-weight="bold" fill="#1a1a1a" style="stroke-width:0px">C</text>
<line x1="21.40" y1="173.30" x2="21.40" y2="235.30" stroke="#222" stroke-width="0.85"/>
<line x1="21.00" y1="234.90" x2="113.50" y2="234.90" stroke="#222" stroke-width="0.85"/>
<line x1="19.80" y1="234.90" x2="21.40" y2="234.90" stroke="#1a1a1a" stroke-width="0.60"/>
<text x="19.20" y="236.50" font-size="5.00" text-anchor="end" font-weight="normal" fill="#1a1a1a" >0</text>
<line x1="19.80" y1="214.47" x2="21.40" y2="214.47" stroke="#1a1a1a" stroke-width="0.60"/>
<text x="19.20" y="216.07" font-size="5.00" text-anchor="end" font-weight="normal" fill="#1a1a1a" >20</text>
<line x1="19.80" y1="194.03" x2="21.40" y2="194.03" stroke="#1a1a1a" stroke-width="0.60"/>
<text x="19.20" y="195.63" font-size="5.00" text-anchor="end" font-weight="normal" fill="#1a1a1a" >40</text>
<line x1="19.80" y1="173.60" x2="21.40" y2="173.60" stroke="#1a1a1a" stroke-width="0.60"/>
<text x="19.20" y="175.20" font-size="5.00" text-anchor="end" font-weight="normal" fill="#1a1a1a" >60</text>
<line x1="21.40" y1="234.90" x2="21.40" y2="236.50" stroke="#1a1a1a" stroke-width="0.60"/>
<text x="21.40" y="242.50" font-size="5.00" text-anchor="middle" font-weight="normal" fill="#1a1a1a" >-10</text>
<line x1="39.70" y1="234.90" x2="39.70" y2="236.50" stroke="#1a1a1a" stroke-width="0.60"/>
<text x="39.70" y="242.50" font-size="5.00" text-anchor="middle" font-weight="normal" fill="#1a1a1a" >-5</text>
<line x1="58.00" y1="234.90" x2="58.00" y2="236.50" stroke="#1a1a1a" stroke-width="0.60"/>
<text x="58.00" y="242.50" font-size="5.00" text-anchor="middle" font-weight="normal" fill="#1a1a1a" >0</text>
<line x1="76.30" y1="234.90" x2="76.30" y2="236.50" stroke="#1a1a1a" stroke-width="0.60"/>
<text x="76.30" y="242.50" font-size="5.00" text-anchor="middle" font-weight="normal" fill="#1a1a1a" >5</text>
<line x1="94.60" y1="234.90" x2="94.60" y2="236.50" stroke="#1a1a1a" stroke-width="0.60"/>
<text x="94.60" y="242.50" font-size="5.00" text-anchor="middle" font-weight="normal" fill="#1a1a1a" >10</text>
<line x1="112.90" y1="234.90" x2="112.90" y2="236.50" stroke="#1a1a1a" stroke-width="0.60"/>
<text x="112.90" y="242.50" font-size="5.00" text-anchor="middle" font-weight="normal" fill="#1a1a1a" >15</text>
<text x="67.90" y="248.80" font-size="5.90" text-anchor="middle" font-weight="normal" fill="#1a1a1a" >Intensity (dB)</text>
<text transform="translate(8.00,204.25) rotate(-90)" font-size="5.9" text-anchor="middle" fill="#1a1a1a">OP amplitude (μV)</text>
<polyline points="36.04,230.30 47.02,229.49 58.00,224.89 73.01,214.47 84.35,209.97 106.50,201.49" fill="none" stroke="#1a1a1a" stroke-width="0.9"/>
<line x1="36.04" y1="228.77" x2="36.04" y2="231.84" stroke="#1a1a1a" stroke-width="0.75"/>
<line x1="34.84" y1="228.77" x2="37.24" y2="228.77" stroke="#1a1a1a" stroke-width="0.70"/>
<line x1="34.84" y1="231.84" x2="37.24" y2="231.84" stroke="#1a1a1a" stroke-width="0.70"/>
<line x1="47.02" y1="227.75" x2="47.02" y2="231.32" stroke="#1a1a1a" stroke-width="0.75"/>
<line x1="45.82" y1="227.75" x2="48.22" y2="227.75" stroke="#1a1a1a" stroke-width="0.70"/>
<line x1="45.82" y1="231.32" x2="48.22" y2="231.32" stroke="#1a1a1a" stroke-width="0.70"/>
<line x1="58.00" y1="221.62" x2="58.00" y2="227.75" stroke="#1a1a1a" stroke-width="0.75"/>
<line x1="56.80" y1="221.62" x2="59.20" y2="221.62" stroke="#1a1a1a" stroke-width="0.70"/>
<line x1="56.80" y1="227.75" x2="59.20" y2="227.75" stroke="#1a1a1a" stroke-width="0.70"/>
<line x1="73.01" y1="206.29" x2="73.01" y2="224.68" stroke="#1a1a1a" stroke-width="0.75"/>
<line x1="71.81" y1="206.29" x2="74.21" y2="206.29" stroke="#1a1a1a" stroke-width="0.70"/>
<line x1="71.81" y1="224.68" x2="74.21" y2="224.68" stroke="#1a1a1a" stroke-width="0.70"/>
<line x1="84.35" y1="201.19" x2="84.35" y2="217.53" stroke="#1a1a1a" stroke-width="0.75"/>
<line x1="83.15" y1="201.19" x2="85.55" y2="201.19" stroke="#1a1a1a" stroke-width="0.70"/>
<line x1="83.15" y1="217.53" x2="85.55" y2="217.53" stroke="#1a1a1a" stroke-width="0.70"/>
<line x1="106.50" y1="189.95" x2="106.50" y2="212.42" stroke="#1a1a1a" stroke-width="0.75"/>
<line x1="105.30" y1="189.95" x2="107.70" y2="189.95" stroke="#1a1a1a" stroke-width="0.70"/>
<line x1="105.30" y1="212.42" x2="107.70" y2="212.42" stroke="#1a1a1a" stroke-width="0.70"/>
<circle cx="36.04" cy="230.30" r="1.5" fill="#1a1a1a"/>
<circle cx="47.02" cy="229.49" r="1.5" fill="#1a1a1a"/>
<circle cx="58.00" cy="224.89" r="1.5" fill="#1a1a1a"/>
<circle cx="73.01" cy="214.47" r="1.5" fill="#1a1a1a"/>
<circle cx="84.35" cy="209.97" r="1.5" fill="#1a1a1a"/>
<circle cx="106.50" cy="201.49" r="1.5" fill="#1a1a1a"/>
<polyline points="36.04,229.49 47.02,223.76 58.00,222.95 73.01,213.44 84.35,201.70 106.50,194.44" fill="none" stroke="#e8393a" stroke-width="0.9"/>
<line x1="36.04" y1="227.75" x2="36.04" y2="231.32" stroke="#e8393a" stroke-width="0.75"/>
<line x1="34.84" y1="227.75" x2="37.24" y2="227.75" stroke="#e8393a" stroke-width="0.70"/>
<line x1="34.84" y1="231.32" x2="37.24" y2="231.32" stroke="#e8393a" stroke-width="0.70"/>
<line x1="47.02" y1="217.53" x2="47.02" y2="229.79" stroke="#e8393a" stroke-width="0.75"/>
<line x1="45.82" y1="217.53" x2="48.22" y2="217.53" stroke="#e8393a" stroke-width="0.70"/>
<line x1="45.82" y1="229.79" x2="48.22" y2="229.79" stroke="#e8393a" stroke-width="0.70"/>
<line x1="58.00" y1="218.55" x2="58.00" y2="228.26" stroke="#e8393a" stroke-width="0.75"/>
<line x1="56.80" y1="218.55" x2="59.20" y2="218.55" stroke="#e8393a" stroke-width="0.70"/>
<line x1="56.80" y1="228.26" x2="59.20" y2="228.26" stroke="#e8393a" stroke-width="0.70"/>
<line x1="73.01" y1="200.16" x2="73.01" y2="224.68" stroke="#e8393a" stroke-width="0.75"/>
<line x1="71.81" y1="200.16" x2="74.21" y2="200.16" stroke="#e8393a" stroke-width="0.70"/>
<line x1="71.81" y1="224.68" x2="74.21" y2="224.68" stroke="#e8393a" stroke-width="0.70"/>
<line x1="84.35" y1="187.90" x2="84.35" y2="214.47" stroke="#e8393a" stroke-width="0.75"/>
<line x1="83.15" y1="187.90" x2="85.55" y2="187.90" stroke="#e8393a" stroke-width="0.70"/>
<line x1="83.15" y1="214.47" x2="85.55" y2="214.47" stroke="#e8393a" stroke-width="0.70"/>
<line x1="106.50" y1="177.69" x2="106.50" y2="211.40" stroke="#e8393a" stroke-width="0.75"/>
<line x1="105.30" y1="177.69" x2="107.70" y2="177.69" stroke="#e8393a" stroke-width="0.70"/>
<line x1="105.30" y1="211.40" x2="107.70" y2="211.40" stroke="#e8393a" stroke-width="0.70"/>
<circle cx="36.04" cy="229.49" r="1.45" fill="#f8c0c0" stroke="#e8393a" stroke-width="0.8"/>
<circle cx="47.02" cy="223.76" r="1.45" fill="#f8c0c0" stroke="#e8393a" stroke-width="0.8"/>
<circle cx="58.00" cy="222.95" r="1.45" fill="#f8c0c0" stroke="#e8393a" stroke-width="0.8"/>
<circle cx="73.01" cy="213.44" r="1.45" fill="#f8c0c0" stroke="#e8393a" stroke-width="0.8"/>
<circle cx="84.35" cy="201.70" r="1.45" fill="#f8c0c0" stroke="#e8393a" stroke-width="0.8"/>
<circle cx="106.50" cy="194.44" r="1.45" fill="#f8c0c0" stroke="#e8393a" stroke-width="0.8"/>
<line x1="28.00" y1="184.00" x2="34.50" y2="184.00" stroke="#1a1a1a" stroke-width="0.75"/>
<circle cx="31.25" cy="184.00" r="1.35" fill="#1a1a1a"/>
<line x1="28.00" y1="192.20" x2="34.50" y2="192.20" stroke="#e8393a" stroke-width="0.75"/>
<circle cx="31.25" cy="192.20" r="1.3" fill="#f08080" stroke="#e8393a" stroke-width="0.7"/>
<text x="38.00" y="185.80" font-size="5.10" text-anchor="start" font-weight="normal" fill="#1a1a1a" >C57BL6</text>
<text x="38.00" y="194.00" font-size="5.1" fill="#1a1a1a">CMV<tspan font-size="4.1" dy="-2.1" font-style="italic" letter-spacing="0.3">fl/fl</tspan></text>
<text transform="translate(116.80,173.40) scale(0.87,1)" font-size="9.3" font-weight="bold" fill="#1a1a1a" style="stroke-width:0px">C'</text>
<line x1="137.30" y1="173.30" x2="137.30" y2="235.40" stroke="#222" stroke-width="0.85"/>
<line x1="136.90" y1="235.00" x2="229.80" y2="235.00" stroke="#222" stroke-width="0.85"/>
<line x1="135.70" y1="235.00" x2="137.30" y2="235.00" stroke="#1a1a1a" stroke-width="0.60"/>
<text x="135.10" y="236.60" font-size="5.00" text-anchor="end" font-weight="normal" fill="#1a1a1a" >0</text>
<line x1="135.70" y1="222.72" x2="137.30" y2="222.72" stroke="#1a1a1a" stroke-width="0.60"/>
<text x="135.10" y="224.32" font-size="5.00" text-anchor="end" font-weight="normal" fill="#1a1a1a" >10</text>
<line x1="135.70" y1="210.44" x2="137.30" y2="210.44" stroke="#1a1a1a" stroke-width="0.60"/>
<text x="135.10" y="212.04" font-size="5.00" text-anchor="end" font-weight="normal" fill="#1a1a1a" >20</text>
<line x1="135.70" y1="198.16" x2="137.30" y2="198.16" stroke="#1a1a1a" stroke-width="0.60"/>
<text x="135.10" y="199.76" font-size="5.00" text-anchor="end" font-weight="normal" fill="#1a1a1a" >30</text>
<line x1="135.70" y1="185.88" x2="137.30" y2="185.88" stroke="#1a1a1a" stroke-width="0.60"/>
<text x="135.10" y="187.48" font-size="5.00" text-anchor="end" font-weight="normal" fill="#1a1a1a" >40</text>
<line x1="135.70" y1="173.60" x2="137.30" y2="173.60" stroke="#1a1a1a" stroke-width="0.60"/>
<text x="135.10" y="175.20" font-size="5.00" text-anchor="end" font-weight="normal" fill="#1a1a1a" >50</text>
<line x1="137.90" y1="235.00" x2="137.90" y2="236.60" stroke="#1a1a1a" stroke-width="0.60"/>
<text x="137.90" y="242.60" font-size="5.00" text-anchor="middle" font-weight="normal" fill="#1a1a1a" >-10</text>
<line x1="156.15" y1="235.00" x2="156.15" y2="236.60" stroke="#1a1a1a" stroke-width="0.60"/>
<text x="156.15" y="242.60" font-size="5.00" text-anchor="middle" font-weight="normal" fill="#1a1a1a" >-5</text>
<line x1="174.40" y1="235.00" x2="174.40" y2="236.60" stroke="#1a1a1a" stroke-width="0.60"/>
<text x="174.40" y="242.60" font-size="5.00" text-anchor="middle" font-weight="normal" fill="#1a1a1a" >0</text>
<line x1="192.65" y1="235.00" x2="192.65" y2="236.60" stroke="#1a1a1a" stroke-width="0.60"/>
<text x="192.65" y="242.60" font-size="5.00" text-anchor="middle" font-weight="normal" fill="#1a1a1a" >5</text>
<line x1="210.90" y1="235.00" x2="210.90" y2="236.60" stroke="#1a1a1a" stroke-width="0.60"/>
<text x="210.90" y="242.60" font-size="5.00" text-anchor="middle" font-weight="normal" fill="#1a1a1a" >10</text>
<line x1="229.15" y1="235.00" x2="229.15" y2="236.60" stroke="#1a1a1a" stroke-width="0.60"/>
<text x="229.15" y="242.60" font-size="5.00" text-anchor="middle" font-weight="normal" fill="#1a1a1a" >15</text>
<text x="184.10" y="248.80" font-size="5.90" text-anchor="middle" font-weight="normal" fill="#1a1a1a" >Intensity (dB)</text>
<text transform="translate(123.90,204.30) rotate(-90)" font-size="5.9" text-anchor="middle" fill="#1a1a1a">OP amplitude (μV)</text>
<polyline points="152.50,229.84 163.45,228.61 174.40,222.72 189.37,211.05 200.68,205.16 222.76,194.60" fill="none" stroke="#1a1a1a" stroke-width="0.9"/>
<line x1="152.50" y1="228.25" x2="152.50" y2="231.32" stroke="#1a1a1a" stroke-width="0.75"/>
<line x1="151.30" y1="228.25" x2="153.70" y2="228.25" stroke="#1a1a1a" stroke-width="0.70"/>
<line x1="151.30" y1="231.32" x2="153.70" y2="231.32" stroke="#1a1a1a" stroke-width="0.70"/>
<line x1="163.45" y1="227.02" x2="163.45" y2="230.09" stroke="#1a1a1a" stroke-width="0.75"/>
<line x1="162.25" y1="227.02" x2="164.65" y2="227.02" stroke="#1a1a1a" stroke-width="0.70"/>
<line x1="162.25" y1="230.09" x2="164.65" y2="230.09" stroke="#1a1a1a" stroke-width="0.70"/>
<line x1="174.40" y1="220.26" x2="174.40" y2="225.18" stroke="#1a1a1a" stroke-width="0.75"/>
<line x1="173.20" y1="220.26" x2="175.60" y2="220.26" stroke="#1a1a1a" stroke-width="0.70"/>
<line x1="173.20" y1="225.18" x2="175.60" y2="225.18" stroke="#1a1a1a" stroke-width="0.70"/>
<line x1="189.37" y1="201.84" x2="189.37" y2="220.88" stroke="#1a1a1a" stroke-width="0.75"/>
<line x1="188.17" y1="201.84" x2="190.56" y2="201.84" stroke="#1a1a1a" stroke-width="0.70"/>
<line x1="188.17" y1="220.88" x2="190.56" y2="220.88" stroke="#1a1a1a" stroke-width="0.70"/>
<line x1="200.68" y1="193.86" x2="200.68" y2="215.97" stroke="#1a1a1a" stroke-width="0.75"/>
<line x1="199.48" y1="193.86" x2="201.88" y2="193.86" stroke="#1a1a1a" stroke-width="0.70"/>
<line x1="199.48" y1="215.97" x2="201.88" y2="215.97" stroke="#1a1a1a" stroke-width="0.70"/>
<line x1="222.76" y1="182.81" x2="222.76" y2="206.14" stroke="#1a1a1a" stroke-width="0.75"/>
<line x1="221.56" y1="182.81" x2="223.96" y2="182.81" stroke="#1a1a1a" stroke-width="0.70"/>
<line x1="221.56" y1="206.14" x2="223.96" y2="206.14" stroke="#1a1a1a" stroke-width="0.70"/>
<circle cx="152.50" cy="229.84" r="1.5" fill="#1a1a1a"/>
<circle cx="163.45" cy="228.61" r="1.5" fill="#1a1a1a"/>
<circle cx="174.40" cy="222.72" r="1.5" fill="#1a1a1a"/>
<circle cx="189.37" cy="211.05" r="1.5" fill="#1a1a1a"/>
<circle cx="200.68" cy="205.16" r="1.5" fill="#1a1a1a"/>
<circle cx="222.76" cy="194.60" r="1.5" fill="#1a1a1a"/>
<polyline points="152.50,230.09 163.45,227.39 174.40,222.72 189.37,215.84 200.68,211.05 222.76,203.32" fill="none" stroke="#e8393a" stroke-width="0.9"/>
<line x1="152.50" y1="228.25" x2="152.50" y2="231.93" stroke="#e8393a" stroke-width="0.75"/>
<line x1="151.30" y1="228.25" x2="153.70" y2="228.25" stroke="#e8393a" stroke-width="0.70"/>
<line x1="151.30" y1="231.93" x2="153.70" y2="231.93" stroke="#e8393a" stroke-width="0.70"/>
<line x1="163.45" y1="222.72" x2="163.45" y2="231.32" stroke="#e8393a" stroke-width="0.75"/>
<line x1="162.25" y1="222.72" x2="164.65" y2="222.72" stroke="#e8393a" stroke-width="0.70"/>
<line x1="162.25" y1="231.32" x2="164.65" y2="231.32" stroke="#e8393a" stroke-width="0.70"/>
<line x1="174.40" y1="217.19" x2="174.40" y2="227.63" stroke="#e8393a" stroke-width="0.75"/>
<line x1="173.20" y1="217.19" x2="175.60" y2="217.19" stroke="#e8393a" stroke-width="0.70"/>
<line x1="173.20" y1="227.63" x2="175.60" y2="227.63" stroke="#e8393a" stroke-width="0.70"/>
<line x1="189.37" y1="206.76" x2="189.37" y2="223.33" stroke="#e8393a" stroke-width="0.75"/>
<line x1="188.17" y1="206.76" x2="190.56" y2="206.76" stroke="#e8393a" stroke-width="0.70"/>
<line x1="188.17" y1="223.33" x2="190.56" y2="223.33" stroke="#e8393a" stroke-width="0.70"/>
<line x1="200.68" y1="203.07" x2="200.68" y2="223.33" stroke="#e8393a" stroke-width="0.75"/>
<line x1="199.48" y1="203.07" x2="201.88" y2="203.07" stroke="#e8393a" stroke-width="0.70"/>
<line x1="199.48" y1="223.33" x2="201.88" y2="223.33" stroke="#e8393a" stroke-width="0.70"/>
<line x1="222.76" y1="182.20" x2="222.76" y2="222.11" stroke="#e8393a" stroke-width="0.75"/>
<line x1="221.56" y1="182.20" x2="223.96" y2="182.20" stroke="#e8393a" stroke-width="0.70"/>
<line x1="221.56" y1="222.11" x2="223.96" y2="222.11" stroke="#e8393a" stroke-width="0.70"/>
<circle cx="152.50" cy="230.09" r="1.45" fill="#f8c0c0" stroke="#e8393a" stroke-width="0.8"/>
<circle cx="163.45" cy="227.39" r="1.45" fill="#f8c0c0" stroke="#e8393a" stroke-width="0.8"/>
<circle cx="174.40" cy="222.72" r="1.45" fill="#f8c0c0" stroke="#e8393a" stroke-width="0.8"/>
<circle cx="189.37" cy="215.84" r="1.45" fill="#f8c0c0" stroke="#e8393a" stroke-width="0.8"/>
<circle cx="200.68" cy="211.05" r="1.45" fill="#f8c0c0" stroke="#e8393a" stroke-width="0.8"/>
<circle cx="222.76" cy="203.32" r="1.45" fill="#f8c0c0" stroke="#e8393a" stroke-width="0.8"/>
<line x1="142.80" y1="183.70" x2="149.30" y2="183.70" stroke="#1a1a1a" stroke-width="0.75"/>
<circle cx="146.05" cy="183.70" r="1.35" fill="#1a1a1a"/>
<line x1="142.80" y1="191.90" x2="149.30" y2="191.90" stroke="#e8393a" stroke-width="0.75"/>
<circle cx="146.05" cy="191.90" r="1.3" fill="#f08080" stroke="#e8393a" stroke-width="0.7"/>
<text x="152.80" y="185.50" font-size="5.10" text-anchor="start" font-weight="normal" fill="#1a1a1a" >C57BL6</text>
<text x="152.80" y="193.70" font-size="5.1" fill="#1a1a1a">Cone<tspan font-size="4.1" dy="-2.1" >Syt9CKO</tspan></text>
<text transform="translate(232.40,173.40) scale(0.87,1)" font-size="9.3" font-weight="bold" fill="#1a1a1a" style="stroke-width:0px">C''</text>
<line x1="254.40" y1="173.10" x2="254.40" y2="235.00" stroke="#222" stroke-width="0.85"/>
<line x1="254.00" y1="234.60" x2="346.50" y2="234.60" stroke="#222" stroke-width="0.85"/>
<line x1="252.80" y1="234.60" x2="254.40" y2="234.60" stroke="#1a1a1a" stroke-width="0.60"/>
<text x="252.20" y="236.20" font-size="5.00" text-anchor="end" font-weight="normal" fill="#1a1a1a" >0</text>
<line x1="252.80" y1="222.36" x2="254.40" y2="222.36" stroke="#1a1a1a" stroke-width="0.60"/>
<text x="252.20" y="223.96" font-size="5.00" text-anchor="end" font-weight="normal" fill="#1a1a1a" >10</text>
<line x1="252.80" y1="210.12" x2="254.40" y2="210.12" stroke="#1a1a1a" stroke-width="0.60"/>
<text x="252.20" y="211.72" font-size="5.00" text-anchor="end" font-weight="normal" fill="#1a1a1a" >20</text>
<line x1="252.80" y1="197.88" x2="254.40" y2="197.88" stroke="#1a1a1a" stroke-width="0.60"/>
<text x="252.20" y="199.48" font-size="5.00" text-anchor="end" font-weight="normal" fill="#1a1a1a" >30</text>
<line x1="252.80" y1="185.64" x2="254.40" y2="185.64" stroke="#1a1a1a" stroke-width="0.60"/>
<text x="252.20" y="187.24" font-size="5.00" text-anchor="end" font-weight="normal" fill="#1a1a1a" >40</text>
<line x1="252.80" y1="173.40" x2="254.40" y2="173.40" stroke="#1a1a1a" stroke-width="0.60"/>
<text x="252.20" y="175.00" font-size="5.00" text-anchor="end" font-weight="normal" fill="#1a1a1a" >50</text>
<line x1="254.30" y1="234.60" x2="254.30" y2="236.20" stroke="#1a1a1a" stroke-width="0.60"/>
<text x="254.30" y="242.20" font-size="5.00" text-anchor="middle" font-weight="normal" fill="#1a1a1a" >-10</text>
<line x1="272.55" y1="234.60" x2="272.55" y2="236.20" stroke="#1a1a1a" stroke-width="0.60"/>
<text x="272.55" y="242.20" font-size="5.00" text-anchor="middle" font-weight="normal" fill="#1a1a1a" >-5</text>
<line x1="290.80" y1="234.60" x2="290.80" y2="236.20" stroke="#1a1a1a" stroke-width="0.60"/>
<text x="290.80" y="242.20" font-size="5.00" text-anchor="middle" font-weight="normal" fill="#1a1a1a" >0</text>
<line x1="309.05" y1="234.60" x2="309.05" y2="236.20" stroke="#1a1a1a" stroke-width="0.60"/>
<text x="309.05" y="242.20" font-size="5.00" text-anchor="middle" font-weight="normal" fill="#1a1a1a" >5</text>
<line x1="327.30" y1="234.60" x2="327.30" y2="236.20" stroke="#1a1a1a" stroke-width="0.60"/>
<text x="327.30" y="242.20" font-size="5.00" text-anchor="middle" font-weight="normal" fill="#1a1a1a" >10</text>
<line x1="345.55" y1="234.60" x2="345.55" y2="236.20" stroke="#1a1a1a" stroke-width="0.60"/>
<text x="345.55" y="242.20" font-size="5.00" text-anchor="middle" font-weight="normal" fill="#1a1a1a" >15</text>
<text x="300.50" y="248.80" font-size="5.90" text-anchor="middle" font-weight="normal" fill="#1a1a1a" >Intensity (dB)</text>
<text transform="translate(241.00,204.00) rotate(-90)" font-size="5.9" text-anchor="middle" fill="#1a1a1a">OP amplitude (μV)</text>
<polyline points="268.90,229.95 279.85,228.24 290.80,222.97 305.76,210.49 317.08,204.86 339.16,194.33" fill="none" stroke="#1a1a1a" stroke-width="0.9"/>
<line x1="268.90" y1="228.48" x2="268.90" y2="231.54" stroke="#1a1a1a" stroke-width="0.75"/>
<line x1="267.70" y1="228.48" x2="270.10" y2="228.48" stroke="#1a1a1a" stroke-width="0.70"/>
<line x1="267.70" y1="231.54" x2="270.10" y2="231.54" stroke="#1a1a1a" stroke-width="0.70"/>
<line x1="279.85" y1="226.64" x2="279.85" y2="229.70" stroke="#1a1a1a" stroke-width="0.75"/>
<line x1="278.65" y1="226.64" x2="281.05" y2="226.64" stroke="#1a1a1a" stroke-width="0.70"/>
<line x1="278.65" y1="229.70" x2="281.05" y2="229.70" stroke="#1a1a1a" stroke-width="0.70"/>
<line x1="290.80" y1="219.30" x2="290.80" y2="226.03" stroke="#1a1a1a" stroke-width="0.75"/>
<line x1="289.60" y1="219.30" x2="292.00" y2="219.30" stroke="#1a1a1a" stroke-width="0.70"/>
<line x1="289.60" y1="226.03" x2="292.00" y2="226.03" stroke="#1a1a1a" stroke-width="0.70"/>
<line x1="305.76" y1="201.55" x2="305.76" y2="220.52" stroke="#1a1a1a" stroke-width="0.75"/>
<line x1="304.56" y1="201.55" x2="306.96" y2="201.55" stroke="#1a1a1a" stroke-width="0.70"/>
<line x1="304.56" y1="220.52" x2="306.96" y2="220.52" stroke="#1a1a1a" stroke-width="0.70"/>
<line x1="317.08" y1="193.60" x2="317.08" y2="215.63" stroke="#1a1a1a" stroke-width="0.75"/>
<line x1="315.88" y1="193.60" x2="318.28" y2="193.60" stroke="#1a1a1a" stroke-width="0.70"/>
<line x1="315.88" y1="215.63" x2="318.28" y2="215.63" stroke="#1a1a1a" stroke-width="0.70"/>
<line x1="339.16" y1="181.97" x2="339.16" y2="207.06" stroke="#1a1a1a" stroke-width="0.75"/>
<line x1="337.96" y1="181.97" x2="340.36" y2="181.97" stroke="#1a1a1a" stroke-width="0.70"/>
<line x1="337.96" y1="207.06" x2="340.36" y2="207.06" stroke="#1a1a1a" stroke-width="0.70"/>
<circle cx="268.90" cy="229.95" r="1.5" fill="#1a1a1a"/>
<circle cx="279.85" cy="228.24" r="1.5" fill="#1a1a1a"/>
<circle cx="290.80" cy="222.97" r="1.5" fill="#1a1a1a"/>
<circle cx="305.76" cy="210.49" r="1.5" fill="#1a1a1a"/>
<circle cx="317.08" cy="204.86" r="1.5" fill="#1a1a1a"/>
<circle cx="339.16" cy="194.33" r="1.5" fill="#1a1a1a"/>
<polyline points="268.90,227.75 279.85,225.54 290.80,222.60 305.76,215.26 317.08,213.30 339.16,203.39" fill="none" stroke="#e8393a" stroke-width="0.9"/>
<line x1="268.90" y1="222.97" x2="268.90" y2="232.76" stroke="#e8393a" stroke-width="0.75"/>
<line x1="267.70" y1="222.97" x2="270.10" y2="222.97" stroke="#e8393a" stroke-width="0.70"/>
<line x1="267.70" y1="232.76" x2="270.10" y2="232.76" stroke="#e8393a" stroke-width="0.70"/>
<line x1="279.85" y1="219.30" x2="279.85" y2="231.54" stroke="#e8393a" stroke-width="0.75"/>
<line x1="278.65" y1="219.30" x2="281.05" y2="219.30" stroke="#e8393a" stroke-width="0.70"/>
<line x1="278.65" y1="231.54" x2="281.05" y2="231.54" stroke="#e8393a" stroke-width="0.70"/>
<line x1="290.80" y1="216.85" x2="290.80" y2="228.48" stroke="#e8393a" stroke-width="0.75"/>
<line x1="289.60" y1="216.85" x2="292.00" y2="216.85" stroke="#e8393a" stroke-width="0.70"/>
<line x1="289.60" y1="228.48" x2="292.00" y2="228.48" stroke="#e8393a" stroke-width="0.70"/>
<line x1="305.76" y1="208.28" x2="305.76" y2="222.97" stroke="#e8393a" stroke-width="0.75"/>
<line x1="304.56" y1="208.28" x2="306.96" y2="208.28" stroke="#e8393a" stroke-width="0.70"/>
<line x1="304.56" y1="222.97" x2="306.96" y2="222.97" stroke="#e8393a" stroke-width="0.70"/>
<line x1="317.08" y1="206.45" x2="317.08" y2="221.75" stroke="#e8393a" stroke-width="0.75"/>
<line x1="315.88" y1="206.45" x2="318.28" y2="206.45" stroke="#e8393a" stroke-width="0.70"/>
<line x1="315.88" y1="221.75" x2="318.28" y2="221.75" stroke="#e8393a" stroke-width="0.70"/>
<line x1="339.16" y1="196.04" x2="339.16" y2="212.57" stroke="#e8393a" stroke-width="0.75"/>
<line x1="337.96" y1="196.04" x2="340.36" y2="196.04" stroke="#e8393a" stroke-width="0.70"/>
<line x1="337.96" y1="212.57" x2="340.36" y2="212.57" stroke="#e8393a" stroke-width="0.70"/>
<circle cx="268.90" cy="227.75" r="1.45" fill="#f8c0c0" stroke="#e8393a" stroke-width="0.8"/>
<circle cx="279.85" cy="225.54" r="1.45" fill="#f8c0c0" stroke="#e8393a" stroke-width="0.8"/>
<circle cx="290.80" cy="222.60" r="1.45" fill="#f8c0c0" stroke="#e8393a" stroke-width="0.8"/>
<circle cx="305.76" cy="215.26" r="1.45" fill="#f8c0c0" stroke="#e8393a" stroke-width="0.8"/>
<circle cx="317.08" cy="213.30" r="1.45" fill="#f8c0c0" stroke="#e8393a" stroke-width="0.8"/>
<circle cx="339.16" cy="203.39" r="1.45" fill="#f8c0c0" stroke="#e8393a" stroke-width="0.8"/>
<line x1="259.30" y1="183.70" x2="265.80" y2="183.70" stroke="#1a1a1a" stroke-width="0.75"/>
<circle cx="262.55" cy="183.70" r="1.35" fill="#1a1a1a"/>
<line x1="259.30" y1="191.90" x2="265.80" y2="191.90" stroke="#e8393a" stroke-width="0.75"/>
<circle cx="262.55" cy="191.90" r="1.3" fill="#f08080" stroke="#e8393a" stroke-width="0.7"/>
<text x="269.30" y="185.50" font-size="5.10" text-anchor="start" font-weight="normal" fill="#1a1a1a" >C57BL6</text>
<text x="269.30" y="193.70" font-size="5.1" fill="#1a1a1a">Rod<tspan font-size="4.1" dy="-2.1" >Syt9CKO</tspan></text>
</svg></body></html>
